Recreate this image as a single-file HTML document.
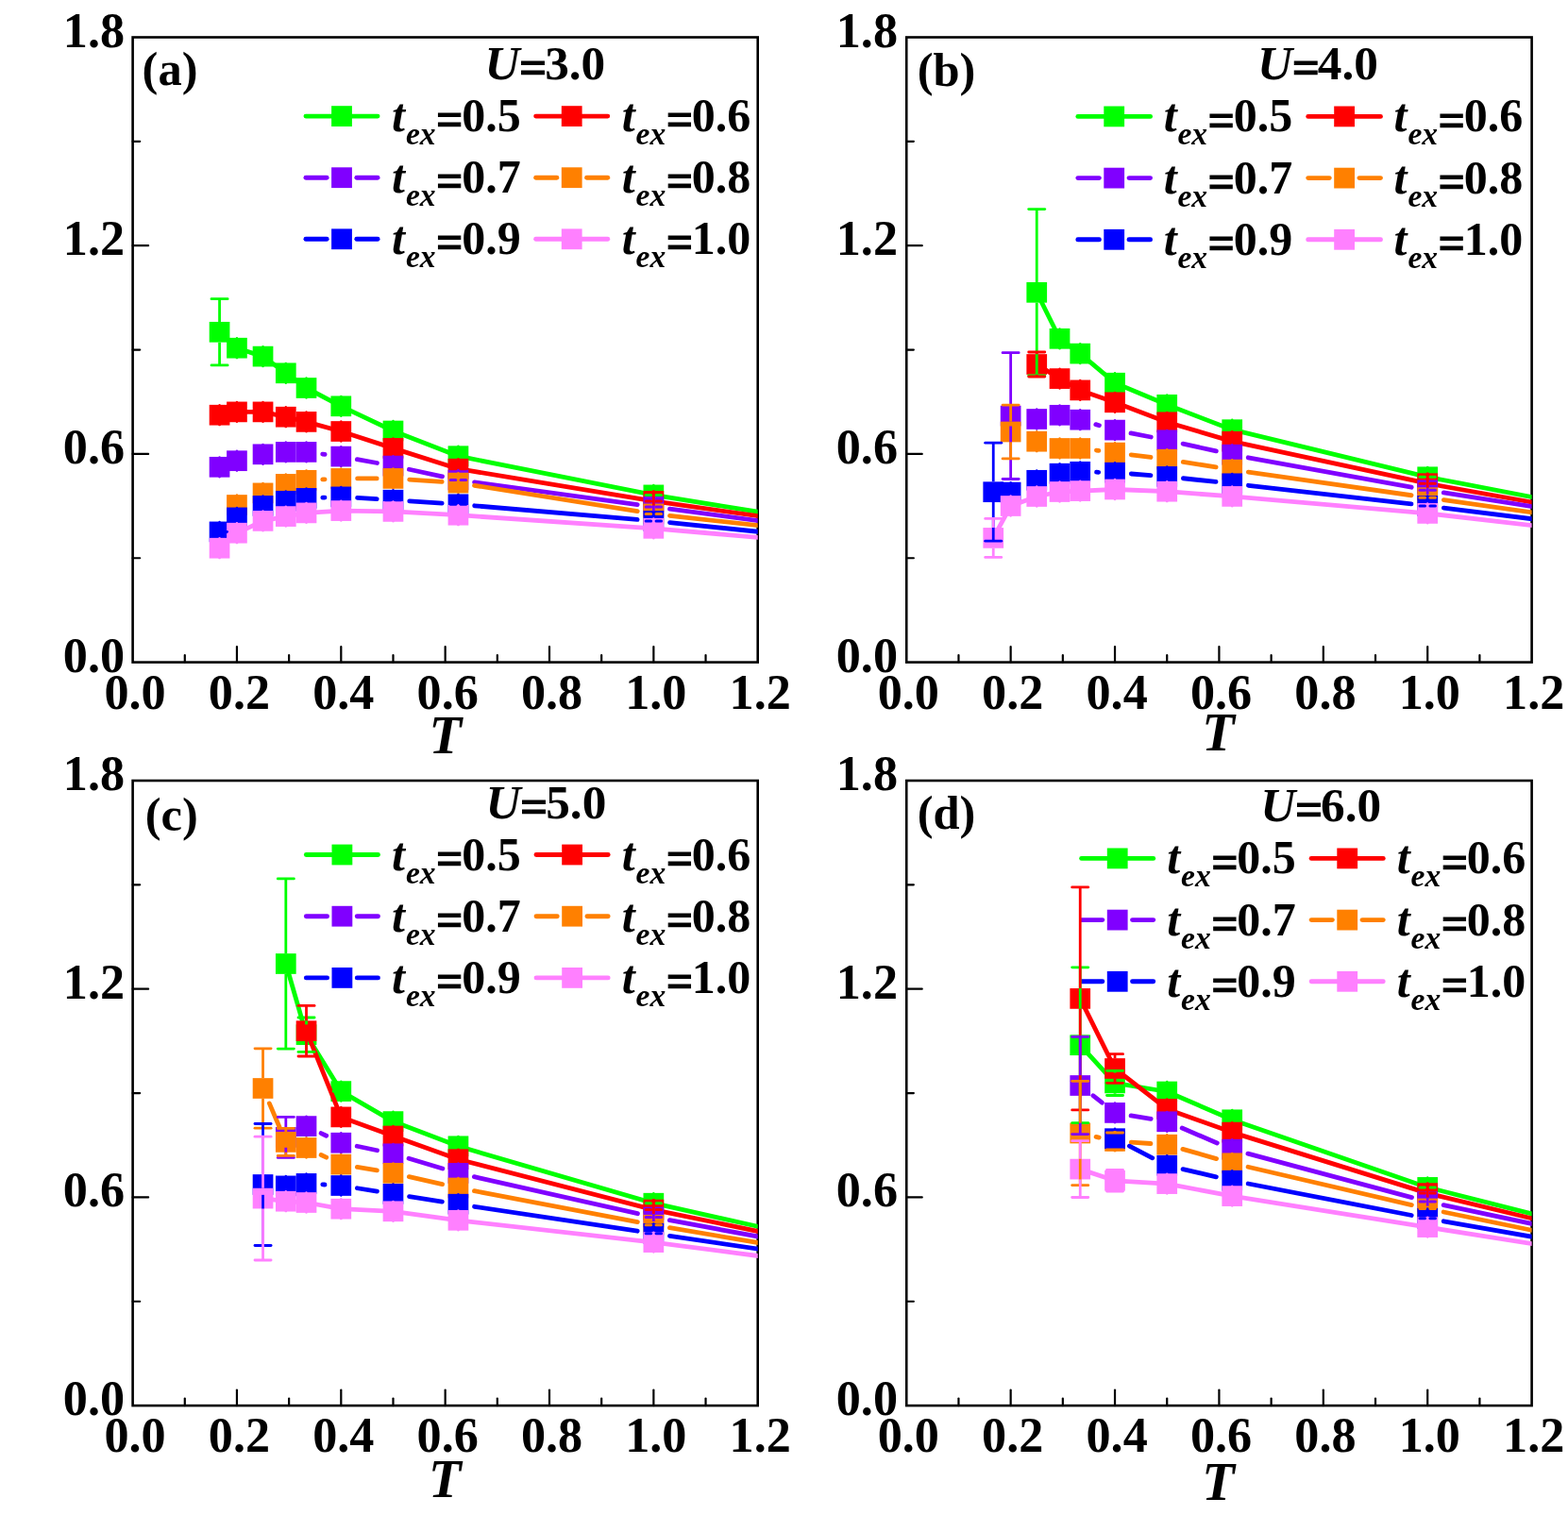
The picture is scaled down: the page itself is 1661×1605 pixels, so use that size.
<!DOCTYPE html>
<html lang="en">
<head>
<meta charset="utf-8">
<title>Figure: temperature dependence for U=3.0, 4.0, 5.0, 6.0</title>
<style>
html,body{margin:0;padding:0;background:#fff;}
body{width:1661px;height:1605px;overflow:hidden;}
svg{display:block;}
svg text{font-family:"Liberation Serif", serif;fill:#000;}
</style>
</head>
<body>
<svg width="1661" height="1605" viewBox="0 0 1661 1605">
<rect x="0" y="0" width="1661" height="1605" fill="#fff"/>
<g id="panel-a">
<rect x="140.6" y="39.5" width="662.1" height="662.1" fill="none" stroke="#000" stroke-width="2.6"/>
<line x1="195.78" y1="701.6" x2="195.78" y2="694" stroke="#000" stroke-width="2.2" stroke-linecap="round"/>
<line x1="250.95" y1="701.6" x2="250.95" y2="685.1" stroke="#000" stroke-width="2.2" stroke-linecap="round"/>
<line x1="306.12" y1="701.6" x2="306.12" y2="694" stroke="#000" stroke-width="2.2" stroke-linecap="round"/>
<line x1="361.3" y1="701.6" x2="361.3" y2="685.1" stroke="#000" stroke-width="2.2" stroke-linecap="round"/>
<line x1="416.48" y1="701.6" x2="416.48" y2="694" stroke="#000" stroke-width="2.2" stroke-linecap="round"/>
<line x1="471.65" y1="701.6" x2="471.65" y2="685.1" stroke="#000" stroke-width="2.2" stroke-linecap="round"/>
<line x1="526.82" y1="701.6" x2="526.82" y2="694" stroke="#000" stroke-width="2.2" stroke-linecap="round"/>
<line x1="582" y1="701.6" x2="582" y2="685.1" stroke="#000" stroke-width="2.2" stroke-linecap="round"/>
<line x1="637.17" y1="701.6" x2="637.17" y2="694" stroke="#000" stroke-width="2.2" stroke-linecap="round"/>
<line x1="692.35" y1="701.6" x2="692.35" y2="685.1" stroke="#000" stroke-width="2.2" stroke-linecap="round"/>
<line x1="747.53" y1="701.6" x2="747.53" y2="694" stroke="#000" stroke-width="2.2" stroke-linecap="round"/>
<line x1="140.6" y1="591.25" x2="148.2" y2="591.25" stroke="#000" stroke-width="2.2" stroke-linecap="round"/>
<line x1="140.6" y1="480.9" x2="157.1" y2="480.9" stroke="#000" stroke-width="2.2" stroke-linecap="round"/>
<line x1="140.6" y1="370.55" x2="148.2" y2="370.55" stroke="#000" stroke-width="2.2" stroke-linecap="round"/>
<line x1="140.6" y1="260.2" x2="157.1" y2="260.2" stroke="#000" stroke-width="2.2" stroke-linecap="round"/>
<line x1="140.6" y1="149.85" x2="148.2" y2="149.85" stroke="#000" stroke-width="2.2" stroke-linecap="round"/>
<g font-size="52.2" font-weight="bold" fill="#000">
<text x="143.1" y="750.7" text-anchor="middle">0.0</text>
<text x="253.45" y="750.7" text-anchor="middle">0.2</text>
<text x="363.8" y="750.7" text-anchor="middle">0.4</text>
<text x="474.15" y="750.7" text-anchor="middle">0.6</text>
<text x="584.5" y="750.7" text-anchor="middle">0.8</text>
<text x="694.85" y="750.7" text-anchor="middle">1.0</text>
<text x="805.2" y="750.7" text-anchor="middle">1.2</text>
<text x="132.1" y="711.6" text-anchor="end">0.0</text>
<text x="132.1" y="490.9" text-anchor="end">0.6</text>
<text x="132.1" y="270.2" text-anchor="end">1.2</text>
<text x="132.1" y="49.5" text-anchor="end">1.8</text>
</g>
<text x="471.65" y="798.1" font-size="56.5" font-weight="bold" font-style="italic" text-anchor="middle">T</text>
<text x="150.6" y="90.3" font-size="50.5" font-weight="bold">(a)</text>
<text x="513.4" y="84.1" font-size="51.3" font-weight="bold"><tspan font-style="italic">U</tspan><tspan dx="-0.45" dy="4.1" stroke="#000" stroke-width="1.1">=</tspan><tspan dx="-2.1" dy="-4.1">3.0</tspan></text>
<line x1="323.95" y1="123.1" x2="400.05" y2="123.1" stroke="#00ff00" stroke-width="4.9" stroke-linecap="round"/>
<rect x="351.1" y="112.2" width="21.8" height="21.8" fill="#00ff00"/>
<text x="415.1" y="139.1" font-size="50" font-weight="bold"><tspan font-style="italic">t</tspan><tspan font-style="italic" font-size="33.5" dx="0.9" dy="14">ex</tspan><tspan dx="0.45" dy="-9.9" stroke="#000" stroke-width="1.1">=</tspan><tspan dx="-1.35" dy="-4.1">0.5</tspan></text>
<line x1="567.65" y1="123.1" x2="643.75" y2="123.1" stroke="#ff0000" stroke-width="4.9" stroke-linecap="round"/>
<rect x="594.8" y="112.2" width="21.8" height="21.8" fill="#ff0000"/>
<text x="658.8" y="139.1" font-size="50" font-weight="bold"><tspan font-style="italic">t</tspan><tspan font-style="italic" font-size="33.5" dx="0.9" dy="14">ex</tspan><tspan dx="0.45" dy="-9.9" stroke="#000" stroke-width="1.1">=</tspan><tspan dx="-1.35" dy="-4.1">0.6</tspan></text>
<line x1="323.95" y1="188.2" x2="346.15" y2="188.2" stroke="#8000ff" stroke-width="4.9" stroke-linecap="round"/>
<line x1="377.85" y1="188.2" x2="400.05" y2="188.2" stroke="#8000ff" stroke-width="4.9" stroke-linecap="round"/>
<rect x="351.1" y="177.3" width="21.8" height="21.8" fill="#8000ff"/>
<text x="415.1" y="204.2" font-size="50" font-weight="bold"><tspan font-style="italic">t</tspan><tspan font-style="italic" font-size="33.5" dx="0.9" dy="14">ex</tspan><tspan dx="0.45" dy="-9.9" stroke="#000" stroke-width="1.1">=</tspan><tspan dx="-1.35" dy="-4.1">0.7</tspan></text>
<line x1="567.65" y1="188.2" x2="589.85" y2="188.2" stroke="#ff8000" stroke-width="4.9" stroke-linecap="round"/>
<line x1="621.55" y1="188.2" x2="643.75" y2="188.2" stroke="#ff8000" stroke-width="4.9" stroke-linecap="round"/>
<rect x="594.8" y="177.3" width="21.8" height="21.8" fill="#ff8000"/>
<text x="658.8" y="204.2" font-size="50" font-weight="bold"><tspan font-style="italic">t</tspan><tspan font-style="italic" font-size="33.5" dx="0.9" dy="14">ex</tspan><tspan dx="0.45" dy="-9.9" stroke="#000" stroke-width="1.1">=</tspan><tspan dx="-1.35" dy="-4.1">0.8</tspan></text>
<line x1="323.95" y1="253.3" x2="346.15" y2="253.3" stroke="#0000ff" stroke-width="4.9" stroke-linecap="round"/>
<line x1="377.85" y1="253.3" x2="400.05" y2="253.3" stroke="#0000ff" stroke-width="4.9" stroke-linecap="round"/>
<rect x="351.1" y="242.4" width="21.8" height="21.8" fill="#0000ff"/>
<text x="415.1" y="269.3" font-size="50" font-weight="bold"><tspan font-style="italic">t</tspan><tspan font-style="italic" font-size="33.5" dx="0.9" dy="14">ex</tspan><tspan dx="0.45" dy="-9.9" stroke="#000" stroke-width="1.1">=</tspan><tspan dx="-1.35" dy="-4.1">0.9</tspan></text>
<line x1="567.65" y1="253.3" x2="643.75" y2="253.3" stroke="#ff80ff" stroke-width="4.9" stroke-linecap="round"/>
<rect x="594.8" y="242.4" width="21.8" height="21.8" fill="#ff80ff"/>
<text x="658.8" y="269.3" font-size="50" font-weight="bold"><tspan font-style="italic">t</tspan><tspan font-style="italic" font-size="33.5" dx="0.9" dy="14">ex</tspan><tspan dx="0.45" dy="-9.9" stroke="#000" stroke-width="1.1">=</tspan><tspan dx="-1.35" dy="-4.1">1.0</tspan></text>
<clipPath id="clip-a"><rect x="140.6" y="39.5" width="662.1" height="662.1"/></clipPath>
<g clip-path="url(#clip-a)">
<polyline points="232.56,351.8 250.95,368.7 278.54,377.6 302.81,395.3 324.52,411 361.3,430.3 416.48,456.5 485.44,483.2 692.35,524.4 832.7,547.04" fill="none" stroke="#00ff00" stroke-width="4.8" stroke-linejoin="round" stroke-linecap="round"/>
<rect x="221.71" y="340.95" width="21.7" height="21.7" fill="#00ff00"/>
<rect x="240.1" y="357.85" width="21.7" height="21.7" fill="#00ff00"/>
<line x1="250.95" y1="358.25" x2="250.95" y2="379.15" stroke="#00ff00" stroke-width="2.4" stroke-linecap="round"/>
<rect x="267.69" y="366.75" width="21.7" height="21.7" fill="#00ff00"/>
<line x1="278.54" y1="367.15" x2="278.54" y2="388.05" stroke="#00ff00" stroke-width="2.4" stroke-linecap="round"/>
<rect x="291.96" y="384.45" width="21.7" height="21.7" fill="#00ff00"/>
<line x1="302.81" y1="384.85" x2="302.81" y2="405.75" stroke="#00ff00" stroke-width="2.4" stroke-linecap="round"/>
<rect x="313.67" y="400.15" width="21.7" height="21.7" fill="#00ff00"/>
<line x1="324.52" y1="400.55" x2="324.52" y2="421.45" stroke="#00ff00" stroke-width="2.4" stroke-linecap="round"/>
<rect x="350.45" y="419.45" width="21.7" height="21.7" fill="#00ff00"/>
<line x1="361.3" y1="419.85" x2="361.3" y2="440.75" stroke="#00ff00" stroke-width="2.4" stroke-linecap="round"/>
<rect x="405.62" y="445.65" width="21.7" height="21.7" fill="#00ff00"/>
<line x1="416.48" y1="446.05" x2="416.48" y2="466.95" stroke="#00ff00" stroke-width="2.4" stroke-linecap="round"/>
<rect x="474.59" y="472.35" width="21.7" height="21.7" fill="#00ff00"/>
<line x1="485.44" y1="472.75" x2="485.44" y2="493.65" stroke="#00ff00" stroke-width="2.4" stroke-linecap="round"/>
<rect x="681.5" y="513.55" width="21.7" height="21.7" fill="#00ff00"/>
<line x1="692.35" y1="513.95" x2="692.35" y2="534.85" stroke="#00ff00" stroke-width="2.4" stroke-linecap="round"/>
<polyline points="232.56,439.7 250.95,436.4 278.54,436.4 302.81,441.7 324.52,446.9 361.3,457 416.48,474.9 485.44,496.7 692.35,530.9 832.7,550.87" fill="none" stroke="#ff0000" stroke-width="4.8" stroke-linejoin="round" stroke-linecap="round"/>
<rect x="221.71" y="428.85" width="21.7" height="21.7" fill="#ff0000"/>
<line x1="232.56" y1="429.25" x2="232.56" y2="450.15" stroke="#ff0000" stroke-width="2.4" stroke-linecap="round"/>
<rect x="240.1" y="425.55" width="21.7" height="21.7" fill="#ff0000"/>
<line x1="250.95" y1="425.95" x2="250.95" y2="446.85" stroke="#ff0000" stroke-width="2.4" stroke-linecap="round"/>
<rect x="267.69" y="425.55" width="21.7" height="21.7" fill="#ff0000"/>
<line x1="278.54" y1="425.95" x2="278.54" y2="446.85" stroke="#ff0000" stroke-width="2.4" stroke-linecap="round"/>
<rect x="291.96" y="430.85" width="21.7" height="21.7" fill="#ff0000"/>
<line x1="302.81" y1="431.25" x2="302.81" y2="452.15" stroke="#ff0000" stroke-width="2.4" stroke-linecap="round"/>
<rect x="313.67" y="436.05" width="21.7" height="21.7" fill="#ff0000"/>
<line x1="324.52" y1="436.45" x2="324.52" y2="457.35" stroke="#ff0000" stroke-width="2.4" stroke-linecap="round"/>
<rect x="350.45" y="446.15" width="21.7" height="21.7" fill="#ff0000"/>
<line x1="361.3" y1="446.55" x2="361.3" y2="467.45" stroke="#ff0000" stroke-width="2.4" stroke-linecap="round"/>
<rect x="405.62" y="464.05" width="21.7" height="21.7" fill="#ff0000"/>
<line x1="416.48" y1="464.45" x2="416.48" y2="485.35" stroke="#ff0000" stroke-width="2.4" stroke-linecap="round"/>
<rect x="474.59" y="485.85" width="21.7" height="21.7" fill="#ff0000"/>
<line x1="485.44" y1="486.25" x2="485.44" y2="507.15" stroke="#ff0000" stroke-width="2.4" stroke-linecap="round"/>
<rect x="681.5" y="520.05" width="21.7" height="21.7" fill="#ff0000"/>
<line x1="692.35" y1="520.45" x2="692.35" y2="541.35" stroke="#ff0000" stroke-width="2.4" stroke-linecap="round"/>
<line x1="341.68" y1="481.09" x2="344.14" y2="481.41" stroke="#8000ff" stroke-width="4.8" stroke-linecap="round"/>
<line x1="378.32" y1="486.69" x2="399.45" y2="490.51" stroke="#8000ff" stroke-width="4.8" stroke-linecap="round"/>
<line x1="433.38" y1="497.25" x2="468.53" y2="504.85" stroke="#8000ff" stroke-width="4.8" stroke-linecap="round"/>
<line x1="502.58" y1="510.85" x2="675.21" y2="534.55" stroke="#8000ff" stroke-width="4.8" stroke-linecap="round"/>
<line x1="709.5" y1="539.18" x2="832.7" y2="555.6" stroke="#8000ff" stroke-width="4.8" stroke-linecap="round"/>
<rect x="221.71" y="483.95" width="21.7" height="21.7" fill="#8000ff"/>
<line x1="232.56" y1="484.35" x2="232.56" y2="505.25" stroke="#8000ff" stroke-width="2.4" stroke-linecap="round"/>
<rect x="240.1" y="477.35" width="21.7" height="21.7" fill="#8000ff"/>
<line x1="250.95" y1="477.75" x2="250.95" y2="498.65" stroke="#8000ff" stroke-width="2.4" stroke-linecap="round"/>
<rect x="267.69" y="470.45" width="21.7" height="21.7" fill="#8000ff"/>
<line x1="278.54" y1="470.85" x2="278.54" y2="491.75" stroke="#8000ff" stroke-width="2.4" stroke-linecap="round"/>
<rect x="291.96" y="468.05" width="21.7" height="21.7" fill="#8000ff"/>
<line x1="302.81" y1="468.45" x2="302.81" y2="489.35" stroke="#8000ff" stroke-width="2.4" stroke-linecap="round"/>
<rect x="313.67" y="468.05" width="21.7" height="21.7" fill="#8000ff"/>
<line x1="324.52" y1="468.45" x2="324.52" y2="489.35" stroke="#8000ff" stroke-width="2.4" stroke-linecap="round"/>
<rect x="350.45" y="472.75" width="21.7" height="21.7" fill="#8000ff"/>
<line x1="361.3" y1="473.15" x2="361.3" y2="494.05" stroke="#8000ff" stroke-width="2.4" stroke-linecap="round"/>
<rect x="405.62" y="482.75" width="21.7" height="21.7" fill="#8000ff"/>
<line x1="416.48" y1="483.15" x2="416.48" y2="504.05" stroke="#8000ff" stroke-width="2.4" stroke-linecap="round"/>
<rect x="474.59" y="497.65" width="21.7" height="21.7" fill="#8000ff"/>
<line x1="485.44" y1="498.05" x2="485.44" y2="518.95" stroke="#8000ff" stroke-width="2.4" stroke-linecap="round"/>
<rect x="681.5" y="526.05" width="21.7" height="21.7" fill="#8000ff"/>
<line x1="692.35" y1="526.45" x2="692.35" y2="547.35" stroke="#8000ff" stroke-width="2.4" stroke-linecap="round"/>
<line x1="341.79" y1="507.91" x2="344.02" y2="507.79" stroke="#ff8000" stroke-width="4.8" stroke-linecap="round"/>
<line x1="378.6" y1="506.9" x2="399.18" y2="506.9" stroke="#ff8000" stroke-width="4.8" stroke-linecap="round"/>
<line x1="433.73" y1="508.08" x2="468.18" y2="510.42" stroke="#ff8000" stroke-width="4.8" stroke-linecap="round"/>
<line x1="502.53" y1="514.31" x2="675.26" y2="541.69" stroke="#ff8000" stroke-width="4.8" stroke-linecap="round"/>
<line x1="709.55" y1="546.3" x2="832.7" y2="559.92" stroke="#ff8000" stroke-width="4.8" stroke-linecap="round"/>
<rect x="240.1" y="524.15" width="21.7" height="21.7" fill="#ff8000"/>
<line x1="250.95" y1="524.55" x2="250.95" y2="545.45" stroke="#ff8000" stroke-width="2.4" stroke-linecap="round"/>
<rect x="267.69" y="511.55" width="21.7" height="21.7" fill="#ff8000"/>
<line x1="278.54" y1="511.95" x2="278.54" y2="532.85" stroke="#ff8000" stroke-width="2.4" stroke-linecap="round"/>
<rect x="291.96" y="502.05" width="21.7" height="21.7" fill="#ff8000"/>
<line x1="302.81" y1="502.45" x2="302.81" y2="523.35" stroke="#ff8000" stroke-width="2.4" stroke-linecap="round"/>
<rect x="313.67" y="497.95" width="21.7" height="21.7" fill="#ff8000"/>
<line x1="324.52" y1="498.35" x2="324.52" y2="519.25" stroke="#ff8000" stroke-width="2.4" stroke-linecap="round"/>
<rect x="350.45" y="496.05" width="21.7" height="21.7" fill="#ff8000"/>
<line x1="361.3" y1="496.45" x2="361.3" y2="517.35" stroke="#ff8000" stroke-width="2.4" stroke-linecap="round"/>
<rect x="405.62" y="496.05" width="21.7" height="21.7" fill="#ff8000"/>
<line x1="416.48" y1="496.45" x2="416.48" y2="517.35" stroke="#ff8000" stroke-width="2.4" stroke-linecap="round"/>
<rect x="474.59" y="500.75" width="21.7" height="21.7" fill="#ff8000"/>
<line x1="485.44" y1="501.15" x2="485.44" y2="522.05" stroke="#ff8000" stroke-width="2.4" stroke-linecap="round"/>
<rect x="681.5" y="533.55" width="21.7" height="21.7" fill="#ff8000"/>
<line x1="692.35" y1="533.95" x2="692.35" y2="554.85" stroke="#ff8000" stroke-width="2.4" stroke-linecap="round"/>
<line x1="341.8" y1="527.2" x2="344.01" y2="527.1" stroke="#0000ff" stroke-width="4.8" stroke-linecap="round"/>
<line x1="378.57" y1="527.43" x2="399.21" y2="528.67" stroke="#0000ff" stroke-width="4.8" stroke-linecap="round"/>
<line x1="433.74" y1="530.85" x2="468.18" y2="533.15" stroke="#0000ff" stroke-width="4.8" stroke-linecap="round"/>
<line x1="502.68" y1="535.77" x2="675.11" y2="550.43" stroke="#0000ff" stroke-width="4.8" stroke-linecap="round"/>
<line x1="709.56" y1="553.66" x2="832.7" y2="566.27" stroke="#0000ff" stroke-width="4.8" stroke-linecap="round"/>
<rect x="221.71" y="552.55" width="21.7" height="21.7" fill="#0000ff"/>
<line x1="232.56" y1="552.95" x2="232.56" y2="573.85" stroke="#0000ff" stroke-width="2.4" stroke-linecap="round"/>
<rect x="240.1" y="537.55" width="21.7" height="21.7" fill="#0000ff"/>
<line x1="250.95" y1="537.95" x2="250.95" y2="558.85" stroke="#0000ff" stroke-width="2.4" stroke-linecap="round"/>
<rect x="267.69" y="525.05" width="21.7" height="21.7" fill="#0000ff"/>
<line x1="278.54" y1="525.45" x2="278.54" y2="546.35" stroke="#0000ff" stroke-width="2.4" stroke-linecap="round"/>
<rect x="291.96" y="519.95" width="21.7" height="21.7" fill="#0000ff"/>
<line x1="302.81" y1="520.35" x2="302.81" y2="541.25" stroke="#0000ff" stroke-width="2.4" stroke-linecap="round"/>
<rect x="313.67" y="517.05" width="21.7" height="21.7" fill="#0000ff"/>
<line x1="324.52" y1="517.45" x2="324.52" y2="538.35" stroke="#0000ff" stroke-width="2.4" stroke-linecap="round"/>
<rect x="350.45" y="515.55" width="21.7" height="21.7" fill="#0000ff"/>
<line x1="361.3" y1="515.95" x2="361.3" y2="536.85" stroke="#0000ff" stroke-width="2.4" stroke-linecap="round"/>
<rect x="405.62" y="518.85" width="21.7" height="21.7" fill="#0000ff"/>
<line x1="416.48" y1="519.25" x2="416.48" y2="540.15" stroke="#0000ff" stroke-width="2.4" stroke-linecap="round"/>
<rect x="474.59" y="523.45" width="21.7" height="21.7" fill="#0000ff"/>
<line x1="485.44" y1="523.85" x2="485.44" y2="544.75" stroke="#0000ff" stroke-width="2.4" stroke-linecap="round"/>
<rect x="681.5" y="541.05" width="21.7" height="21.7" fill="#0000ff"/>
<line x1="692.35" y1="541.45" x2="692.35" y2="562.35" stroke="#0000ff" stroke-width="2.4" stroke-linecap="round"/>
<polyline points="232.56,580.7 250.95,564.7 278.54,551.9 302.81,547.1 324.52,543.4 361.3,541.1 416.48,541.9 485.44,545.7 692.35,559.8 832.7,572.01" fill="none" stroke="#ff80ff" stroke-width="4.8" stroke-linejoin="round" stroke-linecap="round"/>
<rect x="221.71" y="569.85" width="21.7" height="21.7" fill="#ff80ff"/>
<line x1="232.56" y1="570.25" x2="232.56" y2="591.15" stroke="#ff80ff" stroke-width="2.4" stroke-linecap="round"/>
<rect x="240.1" y="553.85" width="21.7" height="21.7" fill="#ff80ff"/>
<line x1="250.95" y1="554.25" x2="250.95" y2="575.15" stroke="#ff80ff" stroke-width="2.4" stroke-linecap="round"/>
<rect x="267.69" y="541.05" width="21.7" height="21.7" fill="#ff80ff"/>
<line x1="278.54" y1="541.45" x2="278.54" y2="562.35" stroke="#ff80ff" stroke-width="2.4" stroke-linecap="round"/>
<rect x="291.96" y="536.25" width="21.7" height="21.7" fill="#ff80ff"/>
<line x1="302.81" y1="536.65" x2="302.81" y2="557.55" stroke="#ff80ff" stroke-width="2.4" stroke-linecap="round"/>
<rect x="313.67" y="532.55" width="21.7" height="21.7" fill="#ff80ff"/>
<line x1="324.52" y1="532.95" x2="324.52" y2="553.85" stroke="#ff80ff" stroke-width="2.4" stroke-linecap="round"/>
<rect x="350.45" y="530.25" width="21.7" height="21.7" fill="#ff80ff"/>
<line x1="361.3" y1="530.65" x2="361.3" y2="551.55" stroke="#ff80ff" stroke-width="2.4" stroke-linecap="round"/>
<rect x="405.62" y="531.05" width="21.7" height="21.7" fill="#ff80ff"/>
<line x1="416.48" y1="531.45" x2="416.48" y2="552.35" stroke="#ff80ff" stroke-width="2.4" stroke-linecap="round"/>
<rect x="474.59" y="534.85" width="21.7" height="21.7" fill="#ff80ff"/>
<line x1="485.44" y1="535.25" x2="485.44" y2="556.15" stroke="#ff80ff" stroke-width="2.4" stroke-linecap="round"/>
<rect x="681.5" y="548.95" width="21.7" height="21.7" fill="#ff80ff"/>
<line x1="692.35" y1="549.35" x2="692.35" y2="570.25" stroke="#ff80ff" stroke-width="2.4" stroke-linecap="round"/>
<line x1="232.56" y1="316.7" x2="232.56" y2="340.95" stroke="#00ff00" stroke-width="2.8" stroke-linecap="butt"/>
<line x1="232.56" y1="362.65" x2="232.56" y2="386.9" stroke="#00ff00" stroke-width="2.8" stroke-linecap="butt"/>
<line x1="224.01" y1="316.7" x2="241.11" y2="316.7" stroke="#00ff00" stroke-width="2.8" stroke-linecap="round"/>
<line x1="224.01" y1="386.9" x2="241.11" y2="386.9" stroke="#00ff00" stroke-width="2.8" stroke-linecap="round"/>
<line x1="242.75" y1="368.7" x2="248.25" y2="368.7" stroke="#00ff00" stroke-width="3" stroke-linecap="round"/>
<line x1="253.65" y1="368.7" x2="259.15" y2="368.7" stroke="#00ff00" stroke-width="3" stroke-linecap="round"/>
<line x1="270.34" y1="377.6" x2="275.84" y2="377.6" stroke="#00ff00" stroke-width="3" stroke-linecap="round"/>
<line x1="281.24" y1="377.6" x2="286.74" y2="377.6" stroke="#00ff00" stroke-width="3" stroke-linecap="round"/>
<line x1="294.61" y1="395.3" x2="300.11" y2="395.3" stroke="#00ff00" stroke-width="3" stroke-linecap="round"/>
<line x1="305.51" y1="395.3" x2="311.01" y2="395.3" stroke="#00ff00" stroke-width="3" stroke-linecap="round"/>
<line x1="316.32" y1="411" x2="321.82" y2="411" stroke="#00ff00" stroke-width="3" stroke-linecap="round"/>
<line x1="327.22" y1="411" x2="332.72" y2="411" stroke="#00ff00" stroke-width="3" stroke-linecap="round"/>
<line x1="353.1" y1="430.3" x2="358.6" y2="430.3" stroke="#00ff00" stroke-width="3" stroke-linecap="round"/>
<line x1="364" y1="430.3" x2="369.5" y2="430.3" stroke="#00ff00" stroke-width="3" stroke-linecap="round"/>
<line x1="408.28" y1="456.5" x2="413.78" y2="456.5" stroke="#00ff00" stroke-width="3" stroke-linecap="round"/>
<line x1="419.18" y1="456.5" x2="424.68" y2="456.5" stroke="#00ff00" stroke-width="3" stroke-linecap="round"/>
<line x1="477.24" y1="483.2" x2="482.74" y2="483.2" stroke="#00ff00" stroke-width="3" stroke-linecap="round"/>
<line x1="488.14" y1="483.2" x2="493.64" y2="483.2" stroke="#00ff00" stroke-width="3" stroke-linecap="round"/>
<line x1="684.15" y1="524.4" x2="689.65" y2="524.4" stroke="#00ff00" stroke-width="3" stroke-linecap="round"/>
<line x1="695.05" y1="524.4" x2="700.55" y2="524.4" stroke="#00ff00" stroke-width="3" stroke-linecap="round"/>
<line x1="224.36" y1="439.7" x2="229.86" y2="439.7" stroke="#ff0000" stroke-width="3" stroke-linecap="round"/>
<line x1="235.26" y1="439.7" x2="240.76" y2="439.7" stroke="#ff0000" stroke-width="3" stroke-linecap="round"/>
<line x1="242.75" y1="436.4" x2="248.25" y2="436.4" stroke="#ff0000" stroke-width="3" stroke-linecap="round"/>
<line x1="253.65" y1="436.4" x2="259.15" y2="436.4" stroke="#ff0000" stroke-width="3" stroke-linecap="round"/>
<line x1="270.34" y1="436.4" x2="275.84" y2="436.4" stroke="#ff0000" stroke-width="3" stroke-linecap="round"/>
<line x1="281.24" y1="436.4" x2="286.74" y2="436.4" stroke="#ff0000" stroke-width="3" stroke-linecap="round"/>
<line x1="294.61" y1="441.7" x2="300.11" y2="441.7" stroke="#ff0000" stroke-width="3" stroke-linecap="round"/>
<line x1="305.51" y1="441.7" x2="311.01" y2="441.7" stroke="#ff0000" stroke-width="3" stroke-linecap="round"/>
<line x1="316.32" y1="446.9" x2="321.82" y2="446.9" stroke="#ff0000" stroke-width="3" stroke-linecap="round"/>
<line x1="327.22" y1="446.9" x2="332.72" y2="446.9" stroke="#ff0000" stroke-width="3" stroke-linecap="round"/>
<line x1="353.1" y1="457" x2="358.6" y2="457" stroke="#ff0000" stroke-width="3" stroke-linecap="round"/>
<line x1="364" y1="457" x2="369.5" y2="457" stroke="#ff0000" stroke-width="3" stroke-linecap="round"/>
<line x1="408.28" y1="474.9" x2="413.78" y2="474.9" stroke="#ff0000" stroke-width="3" stroke-linecap="round"/>
<line x1="419.18" y1="474.9" x2="424.68" y2="474.9" stroke="#ff0000" stroke-width="3" stroke-linecap="round"/>
<line x1="477.24" y1="496.7" x2="482.74" y2="496.7" stroke="#ff0000" stroke-width="3" stroke-linecap="round"/>
<line x1="488.14" y1="496.7" x2="493.64" y2="496.7" stroke="#ff0000" stroke-width="3" stroke-linecap="round"/>
<line x1="684.15" y1="530.9" x2="689.65" y2="530.9" stroke="#ff0000" stroke-width="3" stroke-linecap="round"/>
<line x1="695.05" y1="530.9" x2="700.55" y2="530.9" stroke="#ff0000" stroke-width="3" stroke-linecap="round"/>
<line x1="224.36" y1="494.8" x2="229.86" y2="494.8" stroke="#8000ff" stroke-width="3" stroke-linecap="round"/>
<line x1="235.26" y1="494.8" x2="240.76" y2="494.8" stroke="#8000ff" stroke-width="3" stroke-linecap="round"/>
<line x1="242.75" y1="488.2" x2="248.25" y2="488.2" stroke="#8000ff" stroke-width="3" stroke-linecap="round"/>
<line x1="253.65" y1="488.2" x2="259.15" y2="488.2" stroke="#8000ff" stroke-width="3" stroke-linecap="round"/>
<line x1="270.34" y1="481.3" x2="275.84" y2="481.3" stroke="#8000ff" stroke-width="3" stroke-linecap="round"/>
<line x1="281.24" y1="481.3" x2="286.74" y2="481.3" stroke="#8000ff" stroke-width="3" stroke-linecap="round"/>
<line x1="294.61" y1="478.9" x2="300.11" y2="478.9" stroke="#8000ff" stroke-width="3" stroke-linecap="round"/>
<line x1="305.51" y1="478.9" x2="311.01" y2="478.9" stroke="#8000ff" stroke-width="3" stroke-linecap="round"/>
<line x1="316.32" y1="478.9" x2="321.82" y2="478.9" stroke="#8000ff" stroke-width="3" stroke-linecap="round"/>
<line x1="327.22" y1="478.9" x2="332.72" y2="478.9" stroke="#8000ff" stroke-width="3" stroke-linecap="round"/>
<line x1="353.1" y1="483.6" x2="358.6" y2="483.6" stroke="#8000ff" stroke-width="3" stroke-linecap="round"/>
<line x1="364" y1="483.6" x2="369.5" y2="483.6" stroke="#8000ff" stroke-width="3" stroke-linecap="round"/>
<line x1="408.28" y1="493.6" x2="413.78" y2="493.6" stroke="#8000ff" stroke-width="3" stroke-linecap="round"/>
<line x1="419.18" y1="493.6" x2="424.68" y2="493.6" stroke="#8000ff" stroke-width="3" stroke-linecap="round"/>
<line x1="477.24" y1="508.5" x2="482.74" y2="508.5" stroke="#8000ff" stroke-width="3" stroke-linecap="round"/>
<line x1="488.14" y1="508.5" x2="493.64" y2="508.5" stroke="#8000ff" stroke-width="3" stroke-linecap="round"/>
<line x1="684.15" y1="536.9" x2="689.65" y2="536.9" stroke="#8000ff" stroke-width="3" stroke-linecap="round"/>
<line x1="695.05" y1="536.9" x2="700.55" y2="536.9" stroke="#8000ff" stroke-width="3" stroke-linecap="round"/>
<line x1="242.75" y1="535" x2="248.25" y2="535" stroke="#ff8000" stroke-width="3" stroke-linecap="round"/>
<line x1="253.65" y1="535" x2="259.15" y2="535" stroke="#ff8000" stroke-width="3" stroke-linecap="round"/>
<line x1="270.34" y1="522.4" x2="275.84" y2="522.4" stroke="#ff8000" stroke-width="3" stroke-linecap="round"/>
<line x1="281.24" y1="522.4" x2="286.74" y2="522.4" stroke="#ff8000" stroke-width="3" stroke-linecap="round"/>
<line x1="294.61" y1="512.9" x2="300.11" y2="512.9" stroke="#ff8000" stroke-width="3" stroke-linecap="round"/>
<line x1="305.51" y1="512.9" x2="311.01" y2="512.9" stroke="#ff8000" stroke-width="3" stroke-linecap="round"/>
<line x1="316.32" y1="508.8" x2="321.82" y2="508.8" stroke="#ff8000" stroke-width="3" stroke-linecap="round"/>
<line x1="327.22" y1="508.8" x2="332.72" y2="508.8" stroke="#ff8000" stroke-width="3" stroke-linecap="round"/>
<line x1="353.1" y1="506.9" x2="358.6" y2="506.9" stroke="#ff8000" stroke-width="3" stroke-linecap="round"/>
<line x1="364" y1="506.9" x2="369.5" y2="506.9" stroke="#ff8000" stroke-width="3" stroke-linecap="round"/>
<line x1="408.28" y1="506.9" x2="413.78" y2="506.9" stroke="#ff8000" stroke-width="3" stroke-linecap="round"/>
<line x1="419.18" y1="506.9" x2="424.68" y2="506.9" stroke="#ff8000" stroke-width="3" stroke-linecap="round"/>
<line x1="477.24" y1="511.6" x2="482.74" y2="511.6" stroke="#ff8000" stroke-width="3" stroke-linecap="round"/>
<line x1="488.14" y1="511.6" x2="493.64" y2="511.6" stroke="#ff8000" stroke-width="3" stroke-linecap="round"/>
<line x1="684.15" y1="544.4" x2="689.65" y2="544.4" stroke="#ff8000" stroke-width="3" stroke-linecap="round"/>
<line x1="695.05" y1="544.4" x2="700.55" y2="544.4" stroke="#ff8000" stroke-width="3" stroke-linecap="round"/>
<line x1="224.36" y1="563.4" x2="229.86" y2="563.4" stroke="#0000ff" stroke-width="3" stroke-linecap="round"/>
<line x1="235.26" y1="563.4" x2="240.76" y2="563.4" stroke="#0000ff" stroke-width="3" stroke-linecap="round"/>
<line x1="242.75" y1="548.4" x2="248.25" y2="548.4" stroke="#0000ff" stroke-width="3" stroke-linecap="round"/>
<line x1="253.65" y1="548.4" x2="259.15" y2="548.4" stroke="#0000ff" stroke-width="3" stroke-linecap="round"/>
<line x1="270.34" y1="535.9" x2="275.84" y2="535.9" stroke="#0000ff" stroke-width="3" stroke-linecap="round"/>
<line x1="281.24" y1="535.9" x2="286.74" y2="535.9" stroke="#0000ff" stroke-width="3" stroke-linecap="round"/>
<line x1="294.61" y1="530.8" x2="300.11" y2="530.8" stroke="#0000ff" stroke-width="3" stroke-linecap="round"/>
<line x1="305.51" y1="530.8" x2="311.01" y2="530.8" stroke="#0000ff" stroke-width="3" stroke-linecap="round"/>
<line x1="316.32" y1="527.9" x2="321.82" y2="527.9" stroke="#0000ff" stroke-width="3" stroke-linecap="round"/>
<line x1="327.22" y1="527.9" x2="332.72" y2="527.9" stroke="#0000ff" stroke-width="3" stroke-linecap="round"/>
<line x1="353.1" y1="526.4" x2="358.6" y2="526.4" stroke="#0000ff" stroke-width="3" stroke-linecap="round"/>
<line x1="364" y1="526.4" x2="369.5" y2="526.4" stroke="#0000ff" stroke-width="3" stroke-linecap="round"/>
<line x1="408.28" y1="529.7" x2="413.78" y2="529.7" stroke="#0000ff" stroke-width="3" stroke-linecap="round"/>
<line x1="419.18" y1="529.7" x2="424.68" y2="529.7" stroke="#0000ff" stroke-width="3" stroke-linecap="round"/>
<line x1="477.24" y1="534.3" x2="482.74" y2="534.3" stroke="#0000ff" stroke-width="3" stroke-linecap="round"/>
<line x1="488.14" y1="534.3" x2="493.64" y2="534.3" stroke="#0000ff" stroke-width="3" stroke-linecap="round"/>
<line x1="684.15" y1="551.9" x2="689.65" y2="551.9" stroke="#0000ff" stroke-width="3" stroke-linecap="round"/>
<line x1="695.05" y1="551.9" x2="700.55" y2="551.9" stroke="#0000ff" stroke-width="3" stroke-linecap="round"/>
<line x1="224.36" y1="580.7" x2="229.86" y2="580.7" stroke="#ff80ff" stroke-width="3" stroke-linecap="round"/>
<line x1="235.26" y1="580.7" x2="240.76" y2="580.7" stroke="#ff80ff" stroke-width="3" stroke-linecap="round"/>
<line x1="242.75" y1="564.7" x2="248.25" y2="564.7" stroke="#ff80ff" stroke-width="3" stroke-linecap="round"/>
<line x1="253.65" y1="564.7" x2="259.15" y2="564.7" stroke="#ff80ff" stroke-width="3" stroke-linecap="round"/>
<line x1="270.34" y1="551.9" x2="275.84" y2="551.9" stroke="#ff80ff" stroke-width="3" stroke-linecap="round"/>
<line x1="281.24" y1="551.9" x2="286.74" y2="551.9" stroke="#ff80ff" stroke-width="3" stroke-linecap="round"/>
<line x1="294.61" y1="547.1" x2="300.11" y2="547.1" stroke="#ff80ff" stroke-width="3" stroke-linecap="round"/>
<line x1="305.51" y1="547.1" x2="311.01" y2="547.1" stroke="#ff80ff" stroke-width="3" stroke-linecap="round"/>
<line x1="316.32" y1="543.4" x2="321.82" y2="543.4" stroke="#ff80ff" stroke-width="3" stroke-linecap="round"/>
<line x1="327.22" y1="543.4" x2="332.72" y2="543.4" stroke="#ff80ff" stroke-width="3" stroke-linecap="round"/>
<line x1="353.1" y1="541.1" x2="358.6" y2="541.1" stroke="#ff80ff" stroke-width="3" stroke-linecap="round"/>
<line x1="364" y1="541.1" x2="369.5" y2="541.1" stroke="#ff80ff" stroke-width="3" stroke-linecap="round"/>
<line x1="408.28" y1="541.9" x2="413.78" y2="541.9" stroke="#ff80ff" stroke-width="3" stroke-linecap="round"/>
<line x1="419.18" y1="541.9" x2="424.68" y2="541.9" stroke="#ff80ff" stroke-width="3" stroke-linecap="round"/>
<line x1="477.24" y1="545.7" x2="482.74" y2="545.7" stroke="#ff80ff" stroke-width="3" stroke-linecap="round"/>
<line x1="488.14" y1="545.7" x2="493.64" y2="545.7" stroke="#ff80ff" stroke-width="3" stroke-linecap="round"/>
<line x1="684.15" y1="559.8" x2="689.65" y2="559.8" stroke="#ff80ff" stroke-width="3" stroke-linecap="round"/>
<line x1="695.05" y1="559.8" x2="700.55" y2="559.8" stroke="#ff80ff" stroke-width="3" stroke-linecap="round"/>
<line x1="692.35" y1="525.45" x2="692.35" y2="541.4" stroke="#8000ff" stroke-width="2.8" stroke-linecap="butt"/>
<line x1="692.35" y1="519.45" x2="692.35" y2="535.4" stroke="#ff0000" stroke-width="2.8" stroke-linecap="butt"/>
</g>
</g>
<g id="panel-b">
<rect x="960.25" y="39.5" width="662.35" height="662.1" fill="none" stroke="#000" stroke-width="2.6"/>
<line x1="1015.45" y1="701.6" x2="1015.45" y2="694" stroke="#000" stroke-width="2.2" stroke-linecap="round"/>
<line x1="1070.64" y1="701.6" x2="1070.64" y2="685.1" stroke="#000" stroke-width="2.2" stroke-linecap="round"/>
<line x1="1125.84" y1="701.6" x2="1125.84" y2="694" stroke="#000" stroke-width="2.2" stroke-linecap="round"/>
<line x1="1181.03" y1="701.6" x2="1181.03" y2="685.1" stroke="#000" stroke-width="2.2" stroke-linecap="round"/>
<line x1="1236.23" y1="701.6" x2="1236.23" y2="694" stroke="#000" stroke-width="2.2" stroke-linecap="round"/>
<line x1="1291.42" y1="701.6" x2="1291.42" y2="685.1" stroke="#000" stroke-width="2.2" stroke-linecap="round"/>
<line x1="1346.62" y1="701.6" x2="1346.62" y2="694" stroke="#000" stroke-width="2.2" stroke-linecap="round"/>
<line x1="1401.82" y1="701.6" x2="1401.82" y2="685.1" stroke="#000" stroke-width="2.2" stroke-linecap="round"/>
<line x1="1457.01" y1="701.6" x2="1457.01" y2="694" stroke="#000" stroke-width="2.2" stroke-linecap="round"/>
<line x1="1512.21" y1="701.6" x2="1512.21" y2="685.1" stroke="#000" stroke-width="2.2" stroke-linecap="round"/>
<line x1="1567.4" y1="701.6" x2="1567.4" y2="694" stroke="#000" stroke-width="2.2" stroke-linecap="round"/>
<line x1="960.25" y1="591.25" x2="967.85" y2="591.25" stroke="#000" stroke-width="2.2" stroke-linecap="round"/>
<line x1="960.25" y1="480.9" x2="976.75" y2="480.9" stroke="#000" stroke-width="2.2" stroke-linecap="round"/>
<line x1="960.25" y1="370.55" x2="967.85" y2="370.55" stroke="#000" stroke-width="2.2" stroke-linecap="round"/>
<line x1="960.25" y1="260.2" x2="976.75" y2="260.2" stroke="#000" stroke-width="2.2" stroke-linecap="round"/>
<line x1="960.25" y1="149.85" x2="967.85" y2="149.85" stroke="#000" stroke-width="2.2" stroke-linecap="round"/>
<g font-size="52.2" font-weight="bold" fill="#000">
<text x="962.35" y="750.7" text-anchor="middle">0.0</text>
<text x="1072.74" y="750.7" text-anchor="middle">0.2</text>
<text x="1183.13" y="750.7" text-anchor="middle">0.4</text>
<text x="1293.52" y="750.7" text-anchor="middle">0.6</text>
<text x="1403.92" y="750.7" text-anchor="middle">0.8</text>
<text x="1514.31" y="750.7" text-anchor="middle">1.0</text>
<text x="1624.7" y="750.7" text-anchor="middle">1.2</text>
<text x="951" y="711.6" text-anchor="end">0.0</text>
<text x="951" y="490.9" text-anchor="end">0.6</text>
<text x="951" y="270.2" text-anchor="end">1.2</text>
<text x="951" y="49.5" text-anchor="end">1.8</text>
</g>
<text x="1290.58" y="795.1" font-size="56.5" font-weight="bold" font-style="italic" text-anchor="middle">T</text>
<text x="971.7" y="91.2" font-size="50.5" font-weight="bold">(b)</text>
<text x="1332.1" y="84.1" font-size="51.3" font-weight="bold"><tspan font-style="italic">U</tspan><tspan dx="-0.45" dy="4.1" stroke="#000" stroke-width="1.1">=</tspan><tspan dx="-2.1" dy="-4.1">4.0</tspan></text>
<line x1="1141.85" y1="123.4" x2="1218.55" y2="123.4" stroke="#00ff00" stroke-width="4.9" stroke-linecap="round"/>
<rect x="1169.3" y="112.5" width="21.8" height="21.8" fill="#00ff00"/>
<text x="1232.7" y="139.4" font-size="50" font-weight="bold"><tspan font-style="italic">t</tspan><tspan font-style="italic" font-size="33.5" dx="0.9" dy="14">ex</tspan><tspan dx="0.45" dy="-9.9" stroke="#000" stroke-width="1.1">=</tspan><tspan dx="-1.35" dy="-4.1">0.5</tspan></text>
<line x1="1385.75" y1="123.4" x2="1462.45" y2="123.4" stroke="#ff0000" stroke-width="4.9" stroke-linecap="round"/>
<rect x="1413.2" y="112.5" width="21.8" height="21.8" fill="#ff0000"/>
<text x="1476.6" y="139.4" font-size="50" font-weight="bold"><tspan font-style="italic">t</tspan><tspan font-style="italic" font-size="33.5" dx="0.9" dy="14">ex</tspan><tspan dx="0.45" dy="-9.9" stroke="#000" stroke-width="1.1">=</tspan><tspan dx="-1.35" dy="-4.1">0.6</tspan></text>
<line x1="1141.85" y1="188.6" x2="1164.35" y2="188.6" stroke="#8000ff" stroke-width="4.9" stroke-linecap="round"/>
<line x1="1196.05" y1="188.6" x2="1218.55" y2="188.6" stroke="#8000ff" stroke-width="4.9" stroke-linecap="round"/>
<rect x="1169.3" y="177.7" width="21.8" height="21.8" fill="#8000ff"/>
<text x="1232.7" y="204.6" font-size="50" font-weight="bold"><tspan font-style="italic">t</tspan><tspan font-style="italic" font-size="33.5" dx="0.9" dy="14">ex</tspan><tspan dx="0.45" dy="-9.9" stroke="#000" stroke-width="1.1">=</tspan><tspan dx="-1.35" dy="-4.1">0.7</tspan></text>
<line x1="1385.75" y1="188.6" x2="1408.25" y2="188.6" stroke="#ff8000" stroke-width="4.9" stroke-linecap="round"/>
<line x1="1439.95" y1="188.6" x2="1462.45" y2="188.6" stroke="#ff8000" stroke-width="4.9" stroke-linecap="round"/>
<rect x="1413.2" y="177.7" width="21.8" height="21.8" fill="#ff8000"/>
<text x="1476.6" y="204.6" font-size="50" font-weight="bold"><tspan font-style="italic">t</tspan><tspan font-style="italic" font-size="33.5" dx="0.9" dy="14">ex</tspan><tspan dx="0.45" dy="-9.9" stroke="#000" stroke-width="1.1">=</tspan><tspan dx="-1.35" dy="-4.1">0.8</tspan></text>
<line x1="1141.85" y1="253.8" x2="1164.35" y2="253.8" stroke="#0000ff" stroke-width="4.9" stroke-linecap="round"/>
<line x1="1196.05" y1="253.8" x2="1218.55" y2="253.8" stroke="#0000ff" stroke-width="4.9" stroke-linecap="round"/>
<rect x="1169.3" y="242.9" width="21.8" height="21.8" fill="#0000ff"/>
<text x="1232.7" y="269.8" font-size="50" font-weight="bold"><tspan font-style="italic">t</tspan><tspan font-style="italic" font-size="33.5" dx="0.9" dy="14">ex</tspan><tspan dx="0.45" dy="-9.9" stroke="#000" stroke-width="1.1">=</tspan><tspan dx="-1.35" dy="-4.1">0.9</tspan></text>
<line x1="1385.75" y1="253.8" x2="1462.45" y2="253.8" stroke="#ff80ff" stroke-width="4.9" stroke-linecap="round"/>
<rect x="1413.2" y="242.9" width="21.8" height="21.8" fill="#ff80ff"/>
<text x="1476.6" y="269.8" font-size="50" font-weight="bold"><tspan font-style="italic">t</tspan><tspan font-style="italic" font-size="33.5" dx="0.9" dy="14">ex</tspan><tspan dx="0.45" dy="-9.9" stroke="#000" stroke-width="1.1">=</tspan><tspan dx="-1.35" dy="-4.1">1.0</tspan></text>
<clipPath id="clip-b"><rect x="960.25" y="39.5" width="662.35" height="662.1"/></clipPath>
<g clip-path="url(#clip-b)">
<polyline points="1098.24,309.8 1122.53,358.8 1144.24,374.6 1181.03,405.7 1236.23,428.8 1305.22,455.2 1512.21,505.3 1652.6,532.39" fill="none" stroke="#00ff00" stroke-width="4.8" stroke-linejoin="round" stroke-linecap="round"/>
<rect x="1087.39" y="298.95" width="21.7" height="21.7" fill="#00ff00"/>
<rect x="1111.68" y="347.95" width="21.7" height="21.7" fill="#00ff00"/>
<line x1="1122.53" y1="348.35" x2="1122.53" y2="369.25" stroke="#00ff00" stroke-width="2.4" stroke-linecap="round"/>
<rect x="1133.39" y="363.75" width="21.7" height="21.7" fill="#00ff00"/>
<line x1="1144.24" y1="364.15" x2="1144.24" y2="385.05" stroke="#00ff00" stroke-width="2.4" stroke-linecap="round"/>
<rect x="1170.18" y="394.85" width="21.7" height="21.7" fill="#00ff00"/>
<line x1="1181.03" y1="395.25" x2="1181.03" y2="416.15" stroke="#00ff00" stroke-width="2.4" stroke-linecap="round"/>
<rect x="1225.38" y="417.95" width="21.7" height="21.7" fill="#00ff00"/>
<line x1="1236.23" y1="418.35" x2="1236.23" y2="439.25" stroke="#00ff00" stroke-width="2.4" stroke-linecap="round"/>
<rect x="1294.37" y="444.35" width="21.7" height="21.7" fill="#00ff00"/>
<line x1="1305.22" y1="444.75" x2="1305.22" y2="465.65" stroke="#00ff00" stroke-width="2.4" stroke-linecap="round"/>
<rect x="1501.36" y="494.45" width="21.7" height="21.7" fill="#00ff00"/>
<line x1="1512.21" y1="494.85" x2="1512.21" y2="515.75" stroke="#00ff00" stroke-width="2.4" stroke-linecap="round"/>
<polyline points="1098.24,386 1122.53,401.1 1144.24,413.4 1181.03,426.3 1236.23,447.3 1305.22,467.6 1512.21,512.2 1652.6,537.38" fill="none" stroke="#ff0000" stroke-width="4.8" stroke-linejoin="round" stroke-linecap="round"/>
<rect x="1087.39" y="375.15" width="21.7" height="21.7" fill="#ff0000"/>
<rect x="1111.68" y="390.25" width="21.7" height="21.7" fill="#ff0000"/>
<line x1="1122.53" y1="390.65" x2="1122.53" y2="411.55" stroke="#ff0000" stroke-width="2.4" stroke-linecap="round"/>
<rect x="1133.39" y="402.55" width="21.7" height="21.7" fill="#ff0000"/>
<line x1="1144.24" y1="402.95" x2="1144.24" y2="423.85" stroke="#ff0000" stroke-width="2.4" stroke-linecap="round"/>
<rect x="1170.18" y="415.45" width="21.7" height="21.7" fill="#ff0000"/>
<line x1="1181.03" y1="415.85" x2="1181.03" y2="436.75" stroke="#ff0000" stroke-width="2.4" stroke-linecap="round"/>
<rect x="1225.38" y="436.45" width="21.7" height="21.7" fill="#ff0000"/>
<line x1="1236.23" y1="436.85" x2="1236.23" y2="457.75" stroke="#ff0000" stroke-width="2.4" stroke-linecap="round"/>
<rect x="1294.37" y="456.75" width="21.7" height="21.7" fill="#ff0000"/>
<line x1="1305.22" y1="457.15" x2="1305.22" y2="478.05" stroke="#ff0000" stroke-width="2.4" stroke-linecap="round"/>
<rect x="1501.36" y="501.35" width="21.7" height="21.7" fill="#ff0000"/>
<line x1="1512.21" y1="501.75" x2="1512.21" y2="522.65" stroke="#ff0000" stroke-width="2.4" stroke-linecap="round"/>
<line x1="1160.82" y1="449.61" x2="1164.45" y2="450.69" stroke="#8000ff" stroke-width="4.8" stroke-linecap="round"/>
<line x1="1198.02" y1="458.89" x2="1219.25" y2="463.01" stroke="#8000ff" stroke-width="4.8" stroke-linecap="round"/>
<line x1="1253.11" y1="470.07" x2="1288.34" y2="477.93" stroke="#8000ff" stroke-width="4.8" stroke-linecap="round"/>
<line x1="1322.25" y1="484.79" x2="1495.19" y2="516.21" stroke="#8000ff" stroke-width="4.8" stroke-linecap="round"/>
<line x1="1529.3" y1="521.98" x2="1652.6" y2="541.3" stroke="#8000ff" stroke-width="4.8" stroke-linecap="round"/>
<rect x="1059.79" y="429.75" width="21.7" height="21.7" fill="#8000ff"/>
<rect x="1087.39" y="433.15" width="21.7" height="21.7" fill="#8000ff"/>
<line x1="1098.24" y1="433.55" x2="1098.24" y2="454.45" stroke="#8000ff" stroke-width="2.4" stroke-linecap="round"/>
<rect x="1111.68" y="428.95" width="21.7" height="21.7" fill="#8000ff"/>
<line x1="1122.53" y1="429.35" x2="1122.53" y2="450.25" stroke="#8000ff" stroke-width="2.4" stroke-linecap="round"/>
<rect x="1133.39" y="433.85" width="21.7" height="21.7" fill="#8000ff"/>
<line x1="1144.24" y1="434.25" x2="1144.24" y2="455.15" stroke="#8000ff" stroke-width="2.4" stroke-linecap="round"/>
<rect x="1170.18" y="444.75" width="21.7" height="21.7" fill="#8000ff"/>
<line x1="1181.03" y1="445.15" x2="1181.03" y2="466.05" stroke="#8000ff" stroke-width="2.4" stroke-linecap="round"/>
<rect x="1225.38" y="455.45" width="21.7" height="21.7" fill="#8000ff"/>
<line x1="1236.23" y1="455.85" x2="1236.23" y2="476.75" stroke="#8000ff" stroke-width="2.4" stroke-linecap="round"/>
<rect x="1294.37" y="470.85" width="21.7" height="21.7" fill="#8000ff"/>
<line x1="1305.22" y1="471.25" x2="1305.22" y2="492.15" stroke="#8000ff" stroke-width="2.4" stroke-linecap="round"/>
<rect x="1501.36" y="508.45" width="21.7" height="21.7" fill="#8000ff"/>
<line x1="1512.21" y1="508.85" x2="1512.21" y2="529.75" stroke="#8000ff" stroke-width="2.4" stroke-linecap="round"/>
<line x1="1161.4" y1="477.15" x2="1163.87" y2="477.45" stroke="#ff8000" stroke-width="4.8" stroke-linecap="round"/>
<line x1="1198.19" y1="481.81" x2="1219.07" y2="484.49" stroke="#ff8000" stroke-width="4.8" stroke-linecap="round"/>
<line x1="1253.32" y1="489.4" x2="1288.14" y2="494.9" stroke="#ff8000" stroke-width="4.8" stroke-linecap="round"/>
<line x1="1322.35" y1="500.05" x2="1495.08" y2="524.75" stroke="#ff8000" stroke-width="4.8" stroke-linecap="round"/>
<line x1="1529.34" y1="529.62" x2="1652.6" y2="547.04" stroke="#ff8000" stroke-width="4.8" stroke-linecap="round"/>
<rect x="1059.79" y="446.65" width="21.7" height="21.7" fill="#ff8000"/>
<rect x="1087.39" y="456.85" width="21.7" height="21.7" fill="#ff8000"/>
<line x1="1098.24" y1="457.25" x2="1098.24" y2="478.15" stroke="#ff8000" stroke-width="2.4" stroke-linecap="round"/>
<rect x="1111.68" y="464.15" width="21.7" height="21.7" fill="#ff8000"/>
<line x1="1122.53" y1="464.55" x2="1122.53" y2="485.45" stroke="#ff8000" stroke-width="2.4" stroke-linecap="round"/>
<rect x="1133.39" y="464.15" width="21.7" height="21.7" fill="#ff8000"/>
<line x1="1144.24" y1="464.55" x2="1144.24" y2="485.45" stroke="#ff8000" stroke-width="2.4" stroke-linecap="round"/>
<rect x="1170.18" y="468.75" width="21.7" height="21.7" fill="#ff8000"/>
<line x1="1181.03" y1="469.15" x2="1181.03" y2="490.05" stroke="#ff8000" stroke-width="2.4" stroke-linecap="round"/>
<rect x="1225.38" y="475.85" width="21.7" height="21.7" fill="#ff8000"/>
<line x1="1236.23" y1="476.25" x2="1236.23" y2="497.15" stroke="#ff8000" stroke-width="2.4" stroke-linecap="round"/>
<rect x="1294.37" y="486.75" width="21.7" height="21.7" fill="#ff8000"/>
<line x1="1305.22" y1="487.15" x2="1305.22" y2="508.05" stroke="#ff8000" stroke-width="2.4" stroke-linecap="round"/>
<rect x="1501.36" y="516.35" width="21.7" height="21.7" fill="#ff8000"/>
<line x1="1512.21" y1="516.75" x2="1512.21" y2="537.65" stroke="#ff8000" stroke-width="2.4" stroke-linecap="round"/>
<line x1="1161.53" y1="500.22" x2="1163.74" y2="500.28" stroke="#0000ff" stroke-width="4.8" stroke-linecap="round"/>
<line x1="1198.28" y1="502.01" x2="1218.98" y2="503.59" stroke="#0000ff" stroke-width="4.8" stroke-linecap="round"/>
<line x1="1253.43" y1="506.74" x2="1288.02" y2="510.46" stroke="#0000ff" stroke-width="4.8" stroke-linecap="round"/>
<line x1="1322.41" y1="514.26" x2="1495.02" y2="533.94" stroke="#0000ff" stroke-width="4.8" stroke-linecap="round"/>
<line x1="1529.37" y1="538.05" x2="1652.6" y2="553.45" stroke="#0000ff" stroke-width="4.8" stroke-linecap="round"/>
<rect x="1041.39" y="510.35" width="21.7" height="21.7" fill="#0000ff"/>
<rect x="1059.79" y="510.75" width="21.7" height="21.7" fill="#0000ff"/>
<line x1="1070.64" y1="511.15" x2="1070.64" y2="532.05" stroke="#0000ff" stroke-width="2.4" stroke-linecap="round"/>
<rect x="1087.39" y="497.95" width="21.7" height="21.7" fill="#0000ff"/>
<line x1="1098.24" y1="498.35" x2="1098.24" y2="519.25" stroke="#0000ff" stroke-width="2.4" stroke-linecap="round"/>
<rect x="1111.68" y="490.85" width="21.7" height="21.7" fill="#0000ff"/>
<line x1="1122.53" y1="491.25" x2="1122.53" y2="512.15" stroke="#0000ff" stroke-width="2.4" stroke-linecap="round"/>
<rect x="1133.39" y="488.95" width="21.7" height="21.7" fill="#0000ff"/>
<line x1="1144.24" y1="489.35" x2="1144.24" y2="510.25" stroke="#0000ff" stroke-width="2.4" stroke-linecap="round"/>
<rect x="1170.18" y="489.85" width="21.7" height="21.7" fill="#0000ff"/>
<line x1="1181.03" y1="490.25" x2="1181.03" y2="511.15" stroke="#0000ff" stroke-width="2.4" stroke-linecap="round"/>
<rect x="1225.38" y="494.05" width="21.7" height="21.7" fill="#0000ff"/>
<line x1="1236.23" y1="494.45" x2="1236.23" y2="515.35" stroke="#0000ff" stroke-width="2.4" stroke-linecap="round"/>
<rect x="1294.37" y="501.45" width="21.7" height="21.7" fill="#0000ff"/>
<line x1="1305.22" y1="501.85" x2="1305.22" y2="522.75" stroke="#0000ff" stroke-width="2.4" stroke-linecap="round"/>
<rect x="1501.36" y="525.05" width="21.7" height="21.7" fill="#0000ff"/>
<line x1="1512.21" y1="525.45" x2="1512.21" y2="546.35" stroke="#0000ff" stroke-width="2.4" stroke-linecap="round"/>
<polyline points="1052.24,569.9 1070.64,536 1098.24,526 1122.53,521 1144.24,520.1 1181.03,518.5 1236.23,520.7 1305.22,525.9 1512.21,543.9 1652.6,559.92" fill="none" stroke="#ff80ff" stroke-width="4.8" stroke-linejoin="round" stroke-linecap="round"/>
<rect x="1041.39" y="559.05" width="21.7" height="21.7" fill="#ff80ff"/>
<rect x="1059.79" y="525.15" width="21.7" height="21.7" fill="#ff80ff"/>
<line x1="1070.64" y1="525.55" x2="1070.64" y2="546.45" stroke="#ff80ff" stroke-width="2.4" stroke-linecap="round"/>
<rect x="1087.39" y="515.15" width="21.7" height="21.7" fill="#ff80ff"/>
<line x1="1098.24" y1="515.55" x2="1098.24" y2="536.45" stroke="#ff80ff" stroke-width="2.4" stroke-linecap="round"/>
<rect x="1111.68" y="510.15" width="21.7" height="21.7" fill="#ff80ff"/>
<line x1="1122.53" y1="510.55" x2="1122.53" y2="531.45" stroke="#ff80ff" stroke-width="2.4" stroke-linecap="round"/>
<rect x="1133.39" y="509.25" width="21.7" height="21.7" fill="#ff80ff"/>
<line x1="1144.24" y1="509.65" x2="1144.24" y2="530.55" stroke="#ff80ff" stroke-width="2.4" stroke-linecap="round"/>
<rect x="1170.18" y="507.65" width="21.7" height="21.7" fill="#ff80ff"/>
<line x1="1181.03" y1="508.05" x2="1181.03" y2="528.95" stroke="#ff80ff" stroke-width="2.4" stroke-linecap="round"/>
<rect x="1225.38" y="509.85" width="21.7" height="21.7" fill="#ff80ff"/>
<line x1="1236.23" y1="510.25" x2="1236.23" y2="531.15" stroke="#ff80ff" stroke-width="2.4" stroke-linecap="round"/>
<rect x="1294.37" y="515.05" width="21.7" height="21.7" fill="#ff80ff"/>
<line x1="1305.22" y1="515.45" x2="1305.22" y2="536.35" stroke="#ff80ff" stroke-width="2.4" stroke-linecap="round"/>
<rect x="1501.36" y="533.05" width="21.7" height="21.7" fill="#ff80ff"/>
<line x1="1512.21" y1="533.45" x2="1512.21" y2="554.35" stroke="#ff80ff" stroke-width="2.4" stroke-linecap="round"/>
<line x1="1098.24" y1="221.6" x2="1098.24" y2="298.95" stroke="#00ff00" stroke-width="2.8" stroke-linecap="butt"/>
<line x1="1098.24" y1="320.65" x2="1098.24" y2="398" stroke="#00ff00" stroke-width="2.8" stroke-linecap="butt"/>
<line x1="1089.69" y1="221.6" x2="1106.79" y2="221.6" stroke="#00ff00" stroke-width="2.8" stroke-linecap="round"/>
<line x1="1089.69" y1="398" x2="1106.79" y2="398" stroke="#00ff00" stroke-width="2.8" stroke-linecap="round"/>
<line x1="1114.33" y1="358.8" x2="1119.83" y2="358.8" stroke="#00ff00" stroke-width="3" stroke-linecap="round"/>
<line x1="1125.23" y1="358.8" x2="1130.73" y2="358.8" stroke="#00ff00" stroke-width="3" stroke-linecap="round"/>
<line x1="1136.04" y1="374.6" x2="1141.54" y2="374.6" stroke="#00ff00" stroke-width="3" stroke-linecap="round"/>
<line x1="1146.94" y1="374.6" x2="1152.44" y2="374.6" stroke="#00ff00" stroke-width="3" stroke-linecap="round"/>
<line x1="1172.83" y1="405.7" x2="1178.33" y2="405.7" stroke="#00ff00" stroke-width="3" stroke-linecap="round"/>
<line x1="1183.73" y1="405.7" x2="1189.23" y2="405.7" stroke="#00ff00" stroke-width="3" stroke-linecap="round"/>
<line x1="1228.03" y1="428.8" x2="1233.53" y2="428.8" stroke="#00ff00" stroke-width="3" stroke-linecap="round"/>
<line x1="1238.93" y1="428.8" x2="1244.43" y2="428.8" stroke="#00ff00" stroke-width="3" stroke-linecap="round"/>
<line x1="1297.02" y1="455.2" x2="1302.52" y2="455.2" stroke="#00ff00" stroke-width="3" stroke-linecap="round"/>
<line x1="1307.92" y1="455.2" x2="1313.42" y2="455.2" stroke="#00ff00" stroke-width="3" stroke-linecap="round"/>
<line x1="1504.01" y1="505.3" x2="1509.51" y2="505.3" stroke="#00ff00" stroke-width="3" stroke-linecap="round"/>
<line x1="1514.91" y1="505.3" x2="1520.41" y2="505.3" stroke="#00ff00" stroke-width="3" stroke-linecap="round"/>
<line x1="1098.24" y1="373" x2="1098.24" y2="375.15" stroke="#ff0000" stroke-width="2.8" stroke-linecap="butt"/>
<line x1="1098.24" y1="396.85" x2="1098.24" y2="399" stroke="#ff0000" stroke-width="2.8" stroke-linecap="butt"/>
<line x1="1089.69" y1="373" x2="1106.79" y2="373" stroke="#ff0000" stroke-width="2.8" stroke-linecap="round"/>
<line x1="1089.69" y1="399" x2="1106.79" y2="399" stroke="#ff0000" stroke-width="2.8" stroke-linecap="round"/>
<line x1="1114.33" y1="401.1" x2="1119.83" y2="401.1" stroke="#ff0000" stroke-width="3" stroke-linecap="round"/>
<line x1="1125.23" y1="401.1" x2="1130.73" y2="401.1" stroke="#ff0000" stroke-width="3" stroke-linecap="round"/>
<line x1="1136.04" y1="413.4" x2="1141.54" y2="413.4" stroke="#ff0000" stroke-width="3" stroke-linecap="round"/>
<line x1="1146.94" y1="413.4" x2="1152.44" y2="413.4" stroke="#ff0000" stroke-width="3" stroke-linecap="round"/>
<line x1="1172.83" y1="426.3" x2="1178.33" y2="426.3" stroke="#ff0000" stroke-width="3" stroke-linecap="round"/>
<line x1="1183.73" y1="426.3" x2="1189.23" y2="426.3" stroke="#ff0000" stroke-width="3" stroke-linecap="round"/>
<line x1="1228.03" y1="447.3" x2="1233.53" y2="447.3" stroke="#ff0000" stroke-width="3" stroke-linecap="round"/>
<line x1="1238.93" y1="447.3" x2="1244.43" y2="447.3" stroke="#ff0000" stroke-width="3" stroke-linecap="round"/>
<line x1="1297.02" y1="467.6" x2="1302.52" y2="467.6" stroke="#ff0000" stroke-width="3" stroke-linecap="round"/>
<line x1="1307.92" y1="467.6" x2="1313.42" y2="467.6" stroke="#ff0000" stroke-width="3" stroke-linecap="round"/>
<line x1="1504.01" y1="512.2" x2="1509.51" y2="512.2" stroke="#ff0000" stroke-width="3" stroke-linecap="round"/>
<line x1="1514.91" y1="512.2" x2="1520.41" y2="512.2" stroke="#ff0000" stroke-width="3" stroke-linecap="round"/>
<line x1="1070.64" y1="373.7" x2="1070.64" y2="429.75" stroke="#8000ff" stroke-width="2.8" stroke-linecap="butt"/>
<line x1="1070.64" y1="451.45" x2="1070.64" y2="507.5" stroke="#8000ff" stroke-width="2.8" stroke-linecap="butt"/>
<line x1="1062.09" y1="373.7" x2="1079.19" y2="373.7" stroke="#8000ff" stroke-width="2.8" stroke-linecap="round"/>
<line x1="1062.09" y1="507.5" x2="1079.19" y2="507.5" stroke="#8000ff" stroke-width="2.8" stroke-linecap="round"/>
<line x1="1090.04" y1="444" x2="1095.54" y2="444" stroke="#8000ff" stroke-width="3" stroke-linecap="round"/>
<line x1="1100.94" y1="444" x2="1106.44" y2="444" stroke="#8000ff" stroke-width="3" stroke-linecap="round"/>
<line x1="1114.33" y1="439.8" x2="1119.83" y2="439.8" stroke="#8000ff" stroke-width="3" stroke-linecap="round"/>
<line x1="1125.23" y1="439.8" x2="1130.73" y2="439.8" stroke="#8000ff" stroke-width="3" stroke-linecap="round"/>
<line x1="1136.04" y1="444.7" x2="1141.54" y2="444.7" stroke="#8000ff" stroke-width="3" stroke-linecap="round"/>
<line x1="1146.94" y1="444.7" x2="1152.44" y2="444.7" stroke="#8000ff" stroke-width="3" stroke-linecap="round"/>
<line x1="1172.83" y1="455.6" x2="1178.33" y2="455.6" stroke="#8000ff" stroke-width="3" stroke-linecap="round"/>
<line x1="1183.73" y1="455.6" x2="1189.23" y2="455.6" stroke="#8000ff" stroke-width="3" stroke-linecap="round"/>
<line x1="1228.03" y1="466.3" x2="1233.53" y2="466.3" stroke="#8000ff" stroke-width="3" stroke-linecap="round"/>
<line x1="1238.93" y1="466.3" x2="1244.43" y2="466.3" stroke="#8000ff" stroke-width="3" stroke-linecap="round"/>
<line x1="1297.02" y1="481.7" x2="1302.52" y2="481.7" stroke="#8000ff" stroke-width="3" stroke-linecap="round"/>
<line x1="1307.92" y1="481.7" x2="1313.42" y2="481.7" stroke="#8000ff" stroke-width="3" stroke-linecap="round"/>
<line x1="1504.01" y1="519.3" x2="1509.51" y2="519.3" stroke="#8000ff" stroke-width="3" stroke-linecap="round"/>
<line x1="1514.91" y1="519.3" x2="1520.41" y2="519.3" stroke="#8000ff" stroke-width="3" stroke-linecap="round"/>
<line x1="1070.64" y1="429.1" x2="1070.64" y2="446.65" stroke="#ff8000" stroke-width="2.8" stroke-linecap="butt"/>
<line x1="1070.64" y1="468.35" x2="1070.64" y2="485.9" stroke="#ff8000" stroke-width="2.8" stroke-linecap="butt"/>
<line x1="1062.09" y1="429.1" x2="1079.19" y2="429.1" stroke="#ff8000" stroke-width="2.8" stroke-linecap="round"/>
<line x1="1062.09" y1="485.9" x2="1079.19" y2="485.9" stroke="#ff8000" stroke-width="2.8" stroke-linecap="round"/>
<line x1="1090.04" y1="467.7" x2="1095.54" y2="467.7" stroke="#ff8000" stroke-width="3" stroke-linecap="round"/>
<line x1="1100.94" y1="467.7" x2="1106.44" y2="467.7" stroke="#ff8000" stroke-width="3" stroke-linecap="round"/>
<line x1="1114.33" y1="475" x2="1119.83" y2="475" stroke="#ff8000" stroke-width="3" stroke-linecap="round"/>
<line x1="1125.23" y1="475" x2="1130.73" y2="475" stroke="#ff8000" stroke-width="3" stroke-linecap="round"/>
<line x1="1136.04" y1="475" x2="1141.54" y2="475" stroke="#ff8000" stroke-width="3" stroke-linecap="round"/>
<line x1="1146.94" y1="475" x2="1152.44" y2="475" stroke="#ff8000" stroke-width="3" stroke-linecap="round"/>
<line x1="1172.83" y1="479.6" x2="1178.33" y2="479.6" stroke="#ff8000" stroke-width="3" stroke-linecap="round"/>
<line x1="1183.73" y1="479.6" x2="1189.23" y2="479.6" stroke="#ff8000" stroke-width="3" stroke-linecap="round"/>
<line x1="1228.03" y1="486.7" x2="1233.53" y2="486.7" stroke="#ff8000" stroke-width="3" stroke-linecap="round"/>
<line x1="1238.93" y1="486.7" x2="1244.43" y2="486.7" stroke="#ff8000" stroke-width="3" stroke-linecap="round"/>
<line x1="1297.02" y1="497.6" x2="1302.52" y2="497.6" stroke="#ff8000" stroke-width="3" stroke-linecap="round"/>
<line x1="1307.92" y1="497.6" x2="1313.42" y2="497.6" stroke="#ff8000" stroke-width="3" stroke-linecap="round"/>
<line x1="1504.01" y1="527.2" x2="1509.51" y2="527.2" stroke="#ff8000" stroke-width="3" stroke-linecap="round"/>
<line x1="1514.91" y1="527.2" x2="1520.41" y2="527.2" stroke="#ff8000" stroke-width="3" stroke-linecap="round"/>
<line x1="1052.24" y1="469.2" x2="1052.24" y2="510.35" stroke="#0000ff" stroke-width="2.8" stroke-linecap="butt"/>
<line x1="1052.24" y1="532.05" x2="1052.24" y2="573.2" stroke="#0000ff" stroke-width="2.8" stroke-linecap="butt"/>
<line x1="1043.69" y1="469.2" x2="1060.79" y2="469.2" stroke="#0000ff" stroke-width="2.8" stroke-linecap="round"/>
<line x1="1043.69" y1="573.2" x2="1060.79" y2="573.2" stroke="#0000ff" stroke-width="2.8" stroke-linecap="round"/>
<line x1="1062.44" y1="521.6" x2="1067.94" y2="521.6" stroke="#0000ff" stroke-width="3" stroke-linecap="round"/>
<line x1="1073.34" y1="521.6" x2="1078.84" y2="521.6" stroke="#0000ff" stroke-width="3" stroke-linecap="round"/>
<line x1="1090.04" y1="508.8" x2="1095.54" y2="508.8" stroke="#0000ff" stroke-width="3" stroke-linecap="round"/>
<line x1="1100.94" y1="508.8" x2="1106.44" y2="508.8" stroke="#0000ff" stroke-width="3" stroke-linecap="round"/>
<line x1="1114.33" y1="501.7" x2="1119.83" y2="501.7" stroke="#0000ff" stroke-width="3" stroke-linecap="round"/>
<line x1="1125.23" y1="501.7" x2="1130.73" y2="501.7" stroke="#0000ff" stroke-width="3" stroke-linecap="round"/>
<line x1="1136.04" y1="499.8" x2="1141.54" y2="499.8" stroke="#0000ff" stroke-width="3" stroke-linecap="round"/>
<line x1="1146.94" y1="499.8" x2="1152.44" y2="499.8" stroke="#0000ff" stroke-width="3" stroke-linecap="round"/>
<line x1="1172.83" y1="500.7" x2="1178.33" y2="500.7" stroke="#0000ff" stroke-width="3" stroke-linecap="round"/>
<line x1="1183.73" y1="500.7" x2="1189.23" y2="500.7" stroke="#0000ff" stroke-width="3" stroke-linecap="round"/>
<line x1="1228.03" y1="504.9" x2="1233.53" y2="504.9" stroke="#0000ff" stroke-width="3" stroke-linecap="round"/>
<line x1="1238.93" y1="504.9" x2="1244.43" y2="504.9" stroke="#0000ff" stroke-width="3" stroke-linecap="round"/>
<line x1="1297.02" y1="512.3" x2="1302.52" y2="512.3" stroke="#0000ff" stroke-width="3" stroke-linecap="round"/>
<line x1="1307.92" y1="512.3" x2="1313.42" y2="512.3" stroke="#0000ff" stroke-width="3" stroke-linecap="round"/>
<line x1="1504.01" y1="535.9" x2="1509.51" y2="535.9" stroke="#0000ff" stroke-width="3" stroke-linecap="round"/>
<line x1="1514.91" y1="535.9" x2="1520.41" y2="535.9" stroke="#0000ff" stroke-width="3" stroke-linecap="round"/>
<line x1="1052.24" y1="549.4" x2="1052.24" y2="559.05" stroke="#ff80ff" stroke-width="2.8" stroke-linecap="butt"/>
<line x1="1052.24" y1="580.75" x2="1052.24" y2="590.4" stroke="#ff80ff" stroke-width="2.8" stroke-linecap="butt"/>
<line x1="1043.69" y1="549.4" x2="1060.79" y2="549.4" stroke="#ff80ff" stroke-width="2.8" stroke-linecap="round"/>
<line x1="1043.69" y1="590.4" x2="1060.79" y2="590.4" stroke="#ff80ff" stroke-width="2.8" stroke-linecap="round"/>
<line x1="1062.44" y1="536" x2="1067.94" y2="536" stroke="#ff80ff" stroke-width="3" stroke-linecap="round"/>
<line x1="1073.34" y1="536" x2="1078.84" y2="536" stroke="#ff80ff" stroke-width="3" stroke-linecap="round"/>
<line x1="1090.04" y1="526" x2="1095.54" y2="526" stroke="#ff80ff" stroke-width="3" stroke-linecap="round"/>
<line x1="1100.94" y1="526" x2="1106.44" y2="526" stroke="#ff80ff" stroke-width="3" stroke-linecap="round"/>
<line x1="1114.33" y1="521" x2="1119.83" y2="521" stroke="#ff80ff" stroke-width="3" stroke-linecap="round"/>
<line x1="1125.23" y1="521" x2="1130.73" y2="521" stroke="#ff80ff" stroke-width="3" stroke-linecap="round"/>
<line x1="1136.04" y1="520.1" x2="1141.54" y2="520.1" stroke="#ff80ff" stroke-width="3" stroke-linecap="round"/>
<line x1="1146.94" y1="520.1" x2="1152.44" y2="520.1" stroke="#ff80ff" stroke-width="3" stroke-linecap="round"/>
<line x1="1172.83" y1="518.5" x2="1178.33" y2="518.5" stroke="#ff80ff" stroke-width="3" stroke-linecap="round"/>
<line x1="1183.73" y1="518.5" x2="1189.23" y2="518.5" stroke="#ff80ff" stroke-width="3" stroke-linecap="round"/>
<line x1="1228.03" y1="520.7" x2="1233.53" y2="520.7" stroke="#ff80ff" stroke-width="3" stroke-linecap="round"/>
<line x1="1238.93" y1="520.7" x2="1244.43" y2="520.7" stroke="#ff80ff" stroke-width="3" stroke-linecap="round"/>
<line x1="1297.02" y1="525.9" x2="1302.52" y2="525.9" stroke="#ff80ff" stroke-width="3" stroke-linecap="round"/>
<line x1="1307.92" y1="525.9" x2="1313.42" y2="525.9" stroke="#ff80ff" stroke-width="3" stroke-linecap="round"/>
<line x1="1504.01" y1="543.9" x2="1509.51" y2="543.9" stroke="#ff80ff" stroke-width="3" stroke-linecap="round"/>
<line x1="1514.91" y1="543.9" x2="1520.41" y2="543.9" stroke="#ff80ff" stroke-width="3" stroke-linecap="round"/>
<line x1="1512.21" y1="507.85" x2="1512.21" y2="523.8" stroke="#8000ff" stroke-width="2.8" stroke-linecap="butt"/>
<line x1="1512.21" y1="500.75" x2="1512.21" y2="516.7" stroke="#ff0000" stroke-width="2.8" stroke-linecap="butt"/>
</g>
</g>
<g id="panel-c">
<rect x="140.6" y="827" width="662.1" height="662.1" fill="none" stroke="#000" stroke-width="2.6"/>
<line x1="195.78" y1="1489.1" x2="195.78" y2="1481.5" stroke="#000" stroke-width="2.2" stroke-linecap="round"/>
<line x1="250.95" y1="1489.1" x2="250.95" y2="1472.6" stroke="#000" stroke-width="2.2" stroke-linecap="round"/>
<line x1="306.12" y1="1489.1" x2="306.12" y2="1481.5" stroke="#000" stroke-width="2.2" stroke-linecap="round"/>
<line x1="361.3" y1="1489.1" x2="361.3" y2="1472.6" stroke="#000" stroke-width="2.2" stroke-linecap="round"/>
<line x1="416.48" y1="1489.1" x2="416.48" y2="1481.5" stroke="#000" stroke-width="2.2" stroke-linecap="round"/>
<line x1="471.65" y1="1489.1" x2="471.65" y2="1472.6" stroke="#000" stroke-width="2.2" stroke-linecap="round"/>
<line x1="526.82" y1="1489.1" x2="526.82" y2="1481.5" stroke="#000" stroke-width="2.2" stroke-linecap="round"/>
<line x1="582" y1="1489.1" x2="582" y2="1472.6" stroke="#000" stroke-width="2.2" stroke-linecap="round"/>
<line x1="637.17" y1="1489.1" x2="637.17" y2="1481.5" stroke="#000" stroke-width="2.2" stroke-linecap="round"/>
<line x1="692.35" y1="1489.1" x2="692.35" y2="1472.6" stroke="#000" stroke-width="2.2" stroke-linecap="round"/>
<line x1="747.53" y1="1489.1" x2="747.53" y2="1481.5" stroke="#000" stroke-width="2.2" stroke-linecap="round"/>
<line x1="140.6" y1="1378.75" x2="148.2" y2="1378.75" stroke="#000" stroke-width="2.2" stroke-linecap="round"/>
<line x1="140.6" y1="1268.4" x2="157.1" y2="1268.4" stroke="#000" stroke-width="2.2" stroke-linecap="round"/>
<line x1="140.6" y1="1158.05" x2="148.2" y2="1158.05" stroke="#000" stroke-width="2.2" stroke-linecap="round"/>
<line x1="140.6" y1="1047.7" x2="157.1" y2="1047.7" stroke="#000" stroke-width="2.2" stroke-linecap="round"/>
<line x1="140.6" y1="937.35" x2="148.2" y2="937.35" stroke="#000" stroke-width="2.2" stroke-linecap="round"/>
<g font-size="52.2" font-weight="bold" fill="#000">
<text x="143.1" y="1538.2" text-anchor="middle">0.0</text>
<text x="253.45" y="1538.2" text-anchor="middle">0.2</text>
<text x="363.8" y="1538.2" text-anchor="middle">0.4</text>
<text x="474.15" y="1538.2" text-anchor="middle">0.6</text>
<text x="584.5" y="1538.2" text-anchor="middle">0.8</text>
<text x="694.85" y="1538.2" text-anchor="middle">1.0</text>
<text x="805.2" y="1538.2" text-anchor="middle">1.2</text>
<text x="132.1" y="1499.1" text-anchor="end">0.0</text>
<text x="132.1" y="1278.4" text-anchor="end">0.6</text>
<text x="132.1" y="1057.7" text-anchor="end">1.2</text>
<text x="132.1" y="837" text-anchor="end">1.8</text>
</g>
<text x="471.25" y="1585.8" font-size="56.5" font-weight="bold" font-style="italic" text-anchor="middle">T</text>
<text x="153.7" y="880" font-size="50.5" font-weight="bold">(c)</text>
<text x="514.5" y="866.5" font-size="51.3" font-weight="bold"><tspan font-style="italic">U</tspan><tspan dx="-0.45" dy="4.1" stroke="#000" stroke-width="1.1">=</tspan><tspan dx="-2.1" dy="-4.1">5.0</tspan></text>
<line x1="324.35" y1="905.5" x2="400.45" y2="905.5" stroke="#00ff00" stroke-width="4.9" stroke-linecap="round"/>
<rect x="351.5" y="894.6" width="21.8" height="21.8" fill="#00ff00"/>
<text x="415.1" y="921.5" font-size="50" font-weight="bold"><tspan font-style="italic">t</tspan><tspan font-style="italic" font-size="33.5" dx="0.9" dy="14">ex</tspan><tspan dx="0.45" dy="-9.9" stroke="#000" stroke-width="1.1">=</tspan><tspan dx="-1.35" dy="-4.1">0.5</tspan></text>
<line x1="568.05" y1="905.5" x2="644.15" y2="905.5" stroke="#ff0000" stroke-width="4.9" stroke-linecap="round"/>
<rect x="595.2" y="894.6" width="21.8" height="21.8" fill="#ff0000"/>
<text x="658.8" y="921.5" font-size="50" font-weight="bold"><tspan font-style="italic">t</tspan><tspan font-style="italic" font-size="33.5" dx="0.9" dy="14">ex</tspan><tspan dx="0.45" dy="-9.9" stroke="#000" stroke-width="1.1">=</tspan><tspan dx="-1.35" dy="-4.1">0.6</tspan></text>
<line x1="324.35" y1="970.7" x2="346.55" y2="970.7" stroke="#8000ff" stroke-width="4.9" stroke-linecap="round"/>
<line x1="378.25" y1="970.7" x2="400.45" y2="970.7" stroke="#8000ff" stroke-width="4.9" stroke-linecap="round"/>
<rect x="351.5" y="959.8" width="21.8" height="21.8" fill="#8000ff"/>
<text x="415.1" y="986.7" font-size="50" font-weight="bold"><tspan font-style="italic">t</tspan><tspan font-style="italic" font-size="33.5" dx="0.9" dy="14">ex</tspan><tspan dx="0.45" dy="-9.9" stroke="#000" stroke-width="1.1">=</tspan><tspan dx="-1.35" dy="-4.1">0.7</tspan></text>
<line x1="568.05" y1="970.7" x2="590.25" y2="970.7" stroke="#ff8000" stroke-width="4.9" stroke-linecap="round"/>
<line x1="621.95" y1="970.7" x2="644.15" y2="970.7" stroke="#ff8000" stroke-width="4.9" stroke-linecap="round"/>
<rect x="595.2" y="959.8" width="21.8" height="21.8" fill="#ff8000"/>
<text x="658.8" y="986.7" font-size="50" font-weight="bold"><tspan font-style="italic">t</tspan><tspan font-style="italic" font-size="33.5" dx="0.9" dy="14">ex</tspan><tspan dx="0.45" dy="-9.9" stroke="#000" stroke-width="1.1">=</tspan><tspan dx="-1.35" dy="-4.1">0.8</tspan></text>
<line x1="324.35" y1="1035.9" x2="346.55" y2="1035.9" stroke="#0000ff" stroke-width="4.9" stroke-linecap="round"/>
<line x1="378.25" y1="1035.9" x2="400.45" y2="1035.9" stroke="#0000ff" stroke-width="4.9" stroke-linecap="round"/>
<rect x="351.5" y="1025" width="21.8" height="21.8" fill="#0000ff"/>
<text x="415.1" y="1051.9" font-size="50" font-weight="bold"><tspan font-style="italic">t</tspan><tspan font-style="italic" font-size="33.5" dx="0.9" dy="14">ex</tspan><tspan dx="0.45" dy="-9.9" stroke="#000" stroke-width="1.1">=</tspan><tspan dx="-1.35" dy="-4.1">0.9</tspan></text>
<line x1="568.05" y1="1035.9" x2="644.15" y2="1035.9" stroke="#ff80ff" stroke-width="4.9" stroke-linecap="round"/>
<rect x="595.2" y="1025" width="21.8" height="21.8" fill="#ff80ff"/>
<text x="658.8" y="1051.9" font-size="50" font-weight="bold"><tspan font-style="italic">t</tspan><tspan font-style="italic" font-size="33.5" dx="0.9" dy="14">ex</tspan><tspan dx="0.45" dy="-9.9" stroke="#000" stroke-width="1.1">=</tspan><tspan dx="-1.35" dy="-4.1">1.0</tspan></text>
<clipPath id="clip-c"><rect x="140.6" y="827" width="662.1" height="662.1"/></clipPath>
<g clip-path="url(#clip-c)">
<polyline points="302.81,1021 324.52,1096.2 361.3,1156.1 416.48,1188.1 485.44,1214.3 692.35,1274.7 832.7,1305.99" fill="none" stroke="#00ff00" stroke-width="4.8" stroke-linejoin="round" stroke-linecap="round"/>
<rect x="291.96" y="1010.15" width="21.7" height="21.7" fill="#00ff00"/>
<rect x="313.67" y="1085.35" width="21.7" height="21.7" fill="#00ff00"/>
<rect x="350.45" y="1145.25" width="21.7" height="21.7" fill="#00ff00"/>
<line x1="361.3" y1="1145.65" x2="361.3" y2="1166.55" stroke="#00ff00" stroke-width="2.4" stroke-linecap="round"/>
<rect x="405.62" y="1177.25" width="21.7" height="21.7" fill="#00ff00"/>
<line x1="416.48" y1="1177.65" x2="416.48" y2="1198.55" stroke="#00ff00" stroke-width="2.4" stroke-linecap="round"/>
<rect x="474.59" y="1203.45" width="21.7" height="21.7" fill="#00ff00"/>
<line x1="485.44" y1="1203.85" x2="485.44" y2="1224.75" stroke="#00ff00" stroke-width="2.4" stroke-linecap="round"/>
<rect x="681.5" y="1263.85" width="21.7" height="21.7" fill="#00ff00"/>
<line x1="692.35" y1="1264.25" x2="692.35" y2="1285.15" stroke="#00ff00" stroke-width="2.4" stroke-linecap="round"/>
<polyline points="324.52,1092.2 361.3,1183.4 416.48,1203.5 485.44,1228.2 692.35,1281.6 832.7,1310.6" fill="none" stroke="#ff0000" stroke-width="4.8" stroke-linejoin="round" stroke-linecap="round"/>
<rect x="313.67" y="1081.35" width="21.7" height="21.7" fill="#ff0000"/>
<rect x="350.45" y="1172.55" width="21.7" height="21.7" fill="#ff0000"/>
<line x1="361.3" y1="1172.95" x2="361.3" y2="1193.85" stroke="#ff0000" stroke-width="2.4" stroke-linecap="round"/>
<rect x="405.62" y="1192.65" width="21.7" height="21.7" fill="#ff0000"/>
<line x1="416.48" y1="1193.05" x2="416.48" y2="1213.95" stroke="#ff0000" stroke-width="2.4" stroke-linecap="round"/>
<rect x="474.59" y="1217.35" width="21.7" height="21.7" fill="#ff0000"/>
<line x1="485.44" y1="1217.75" x2="485.44" y2="1238.65" stroke="#ff0000" stroke-width="2.4" stroke-linecap="round"/>
<rect x="681.5" y="1270.75" width="21.7" height="21.7" fill="#ff0000"/>
<line x1="692.35" y1="1271.15" x2="692.35" y2="1292.05" stroke="#ff0000" stroke-width="2.4" stroke-linecap="round"/>
<line x1="340.12" y1="1200.57" x2="345.69" y2="1203.23" stroke="#8000ff" stroke-width="4.8" stroke-linecap="round"/>
<line x1="378.23" y1="1214.26" x2="399.55" y2="1218.74" stroke="#8000ff" stroke-width="4.8" stroke-linecap="round"/>
<line x1="433.05" y1="1227.25" x2="468.87" y2="1237.95" stroke="#8000ff" stroke-width="4.8" stroke-linecap="round"/>
<line x1="502.32" y1="1246.7" x2="675.47" y2="1285.7" stroke="#8000ff" stroke-width="4.8" stroke-linecap="round"/>
<line x1="709.36" y1="1292.66" x2="832.7" y2="1315.57" stroke="#8000ff" stroke-width="4.8" stroke-linecap="round"/>
<rect x="291.96" y="1194.05" width="21.7" height="21.7" fill="#8000ff"/>
<rect x="313.67" y="1182.25" width="21.7" height="21.7" fill="#8000ff"/>
<line x1="324.52" y1="1182.65" x2="324.52" y2="1203.55" stroke="#8000ff" stroke-width="2.4" stroke-linecap="round"/>
<rect x="350.45" y="1199.85" width="21.7" height="21.7" fill="#8000ff"/>
<line x1="361.3" y1="1200.25" x2="361.3" y2="1221.15" stroke="#8000ff" stroke-width="2.4" stroke-linecap="round"/>
<rect x="405.62" y="1211.45" width="21.7" height="21.7" fill="#8000ff"/>
<line x1="416.48" y1="1211.85" x2="416.48" y2="1232.75" stroke="#8000ff" stroke-width="2.4" stroke-linecap="round"/>
<rect x="474.59" y="1232.05" width="21.7" height="21.7" fill="#8000ff"/>
<line x1="485.44" y1="1232.45" x2="485.44" y2="1253.35" stroke="#8000ff" stroke-width="2.4" stroke-linecap="round"/>
<rect x="681.5" y="1278.65" width="21.7" height="21.7" fill="#8000ff"/>
<line x1="692.35" y1="1279.05" x2="692.35" y2="1299.95" stroke="#8000ff" stroke-width="2.4" stroke-linecap="round"/>
<line x1="285.33" y1="1168.91" x2="296.03" y2="1193.99" stroke="#ff8000" stroke-width="4.8" stroke-linecap="round"/>
<line x1="340.12" y1="1223.47" x2="345.69" y2="1226.13" stroke="#ff8000" stroke-width="4.8" stroke-linecap="round"/>
<line x1="378.36" y1="1236.45" x2="399.41" y2="1239.95" stroke="#ff8000" stroke-width="4.8" stroke-linecap="round"/>
<line x1="433.34" y1="1246.64" x2="468.58" y2="1254.66" stroke="#ff8000" stroke-width="4.8" stroke-linecap="round"/>
<line x1="502.44" y1="1261.73" x2="675.35" y2="1294.57" stroke="#ff8000" stroke-width="4.8" stroke-linecap="round"/>
<line x1="709.41" y1="1300.69" x2="832.7" y2="1321.58" stroke="#ff8000" stroke-width="4.8" stroke-linecap="round"/>
<rect x="267.69" y="1142.15" width="21.7" height="21.7" fill="#ff8000"/>
<rect x="291.96" y="1199.05" width="21.7" height="21.7" fill="#ff8000"/>
<rect x="313.67" y="1205.15" width="21.7" height="21.7" fill="#ff8000"/>
<line x1="324.52" y1="1205.55" x2="324.52" y2="1226.45" stroke="#ff8000" stroke-width="2.4" stroke-linecap="round"/>
<rect x="350.45" y="1222.75" width="21.7" height="21.7" fill="#ff8000"/>
<line x1="361.3" y1="1223.15" x2="361.3" y2="1244.05" stroke="#ff8000" stroke-width="2.4" stroke-linecap="round"/>
<rect x="405.62" y="1231.95" width="21.7" height="21.7" fill="#ff8000"/>
<line x1="416.48" y1="1232.35" x2="416.48" y2="1253.25" stroke="#ff8000" stroke-width="2.4" stroke-linecap="round"/>
<rect x="474.59" y="1247.65" width="21.7" height="21.7" fill="#ff8000"/>
<line x1="485.44" y1="1248.05" x2="485.44" y2="1268.95" stroke="#ff8000" stroke-width="2.4" stroke-linecap="round"/>
<rect x="681.5" y="1286.95" width="21.7" height="21.7" fill="#ff8000"/>
<line x1="692.35" y1="1287.35" x2="692.35" y2="1308.25" stroke="#ff8000" stroke-width="2.4" stroke-linecap="round"/>
<line x1="341.79" y1="1254.89" x2="344.03" y2="1255.01" stroke="#0000ff" stroke-width="4.8" stroke-linecap="round"/>
<line x1="378.38" y1="1258.75" x2="399.4" y2="1262.15" stroke="#0000ff" stroke-width="4.8" stroke-linecap="round"/>
<line x1="433.57" y1="1267.58" x2="468.35" y2="1273.02" stroke="#0000ff" stroke-width="4.8" stroke-linecap="round"/>
<line x1="502.55" y1="1278.27" x2="675.24" y2="1304.23" stroke="#0000ff" stroke-width="4.8" stroke-linecap="round"/>
<line x1="709.46" y1="1309.33" x2="832.7" y2="1327.53" stroke="#0000ff" stroke-width="4.8" stroke-linecap="round"/>
<rect x="267.69" y="1244.15" width="21.7" height="21.7" fill="#0000ff"/>
<rect x="291.96" y="1245.55" width="21.7" height="21.7" fill="#0000ff"/>
<line x1="302.81" y1="1245.95" x2="302.81" y2="1266.85" stroke="#0000ff" stroke-width="2.4" stroke-linecap="round"/>
<rect x="313.67" y="1243.05" width="21.7" height="21.7" fill="#0000ff"/>
<line x1="324.52" y1="1243.45" x2="324.52" y2="1264.35" stroke="#0000ff" stroke-width="2.4" stroke-linecap="round"/>
<rect x="350.45" y="1245.15" width="21.7" height="21.7" fill="#0000ff"/>
<line x1="361.3" y1="1245.55" x2="361.3" y2="1266.45" stroke="#0000ff" stroke-width="2.4" stroke-linecap="round"/>
<rect x="405.62" y="1254.05" width="21.7" height="21.7" fill="#0000ff"/>
<line x1="416.48" y1="1254.45" x2="416.48" y2="1275.35" stroke="#0000ff" stroke-width="2.4" stroke-linecap="round"/>
<rect x="474.59" y="1264.85" width="21.7" height="21.7" fill="#0000ff"/>
<line x1="485.44" y1="1265.25" x2="485.44" y2="1286.15" stroke="#0000ff" stroke-width="2.4" stroke-linecap="round"/>
<rect x="681.5" y="1295.95" width="21.7" height="21.7" fill="#0000ff"/>
<line x1="692.35" y1="1296.35" x2="692.35" y2="1317.25" stroke="#0000ff" stroke-width="2.4" stroke-linecap="round"/>
<polyline points="278.54,1269.6 302.81,1272.7 324.52,1274 361.3,1280.7 416.48,1283.3 485.44,1292.8 692.35,1316.1 832.7,1334.41" fill="none" stroke="#ff80ff" stroke-width="4.8" stroke-linejoin="round" stroke-linecap="round"/>
<rect x="267.69" y="1258.75" width="21.7" height="21.7" fill="#ff80ff"/>
<rect x="291.96" y="1261.85" width="21.7" height="21.7" fill="#ff80ff"/>
<line x1="302.81" y1="1262.25" x2="302.81" y2="1283.15" stroke="#ff80ff" stroke-width="2.4" stroke-linecap="round"/>
<rect x="313.67" y="1263.15" width="21.7" height="21.7" fill="#ff80ff"/>
<line x1="324.52" y1="1263.55" x2="324.52" y2="1284.45" stroke="#ff80ff" stroke-width="2.4" stroke-linecap="round"/>
<rect x="350.45" y="1269.85" width="21.7" height="21.7" fill="#ff80ff"/>
<line x1="361.3" y1="1270.25" x2="361.3" y2="1291.15" stroke="#ff80ff" stroke-width="2.4" stroke-linecap="round"/>
<rect x="405.62" y="1272.45" width="21.7" height="21.7" fill="#ff80ff"/>
<line x1="416.48" y1="1272.85" x2="416.48" y2="1293.75" stroke="#ff80ff" stroke-width="2.4" stroke-linecap="round"/>
<rect x="474.59" y="1281.95" width="21.7" height="21.7" fill="#ff80ff"/>
<line x1="485.44" y1="1282.35" x2="485.44" y2="1303.25" stroke="#ff80ff" stroke-width="2.4" stroke-linecap="round"/>
<rect x="681.5" y="1305.25" width="21.7" height="21.7" fill="#ff80ff"/>
<line x1="692.35" y1="1305.65" x2="692.35" y2="1326.55" stroke="#ff80ff" stroke-width="2.4" stroke-linecap="round"/>
<line x1="302.81" y1="930.9" x2="302.81" y2="1010.15" stroke="#00ff00" stroke-width="2.8" stroke-linecap="butt"/>
<line x1="302.81" y1="1031.85" x2="302.81" y2="1111.1" stroke="#00ff00" stroke-width="2.8" stroke-linecap="butt"/>
<line x1="294.26" y1="930.9" x2="311.36" y2="930.9" stroke="#00ff00" stroke-width="2.8" stroke-linecap="round"/>
<line x1="294.26" y1="1111.1" x2="311.36" y2="1111.1" stroke="#00ff00" stroke-width="2.8" stroke-linecap="round"/>
<line x1="324.52" y1="1078" x2="324.52" y2="1085.35" stroke="#00ff00" stroke-width="2.8" stroke-linecap="butt"/>
<line x1="324.52" y1="1107.05" x2="324.52" y2="1114.4" stroke="#00ff00" stroke-width="2.8" stroke-linecap="butt"/>
<line x1="315.97" y1="1078" x2="333.07" y2="1078" stroke="#00ff00" stroke-width="2.8" stroke-linecap="round"/>
<line x1="315.97" y1="1114.4" x2="333.07" y2="1114.4" stroke="#00ff00" stroke-width="2.8" stroke-linecap="round"/>
<line x1="353.1" y1="1156.1" x2="358.6" y2="1156.1" stroke="#00ff00" stroke-width="3" stroke-linecap="round"/>
<line x1="364" y1="1156.1" x2="369.5" y2="1156.1" stroke="#00ff00" stroke-width="3" stroke-linecap="round"/>
<line x1="408.28" y1="1188.1" x2="413.78" y2="1188.1" stroke="#00ff00" stroke-width="3" stroke-linecap="round"/>
<line x1="419.18" y1="1188.1" x2="424.68" y2="1188.1" stroke="#00ff00" stroke-width="3" stroke-linecap="round"/>
<line x1="477.24" y1="1214.3" x2="482.74" y2="1214.3" stroke="#00ff00" stroke-width="3" stroke-linecap="round"/>
<line x1="488.14" y1="1214.3" x2="493.64" y2="1214.3" stroke="#00ff00" stroke-width="3" stroke-linecap="round"/>
<line x1="684.15" y1="1274.7" x2="689.65" y2="1274.7" stroke="#00ff00" stroke-width="3" stroke-linecap="round"/>
<line x1="695.05" y1="1274.7" x2="700.55" y2="1274.7" stroke="#00ff00" stroke-width="3" stroke-linecap="round"/>
<line x1="324.52" y1="1065.4" x2="324.52" y2="1081.35" stroke="#ff0000" stroke-width="2.8" stroke-linecap="butt"/>
<line x1="324.52" y1="1103.05" x2="324.52" y2="1119" stroke="#ff0000" stroke-width="2.8" stroke-linecap="butt"/>
<line x1="315.97" y1="1065.4" x2="333.07" y2="1065.4" stroke="#ff0000" stroke-width="2.8" stroke-linecap="round"/>
<line x1="315.97" y1="1119" x2="333.07" y2="1119" stroke="#ff0000" stroke-width="2.8" stroke-linecap="round"/>
<line x1="353.1" y1="1183.4" x2="358.6" y2="1183.4" stroke="#ff0000" stroke-width="3" stroke-linecap="round"/>
<line x1="364" y1="1183.4" x2="369.5" y2="1183.4" stroke="#ff0000" stroke-width="3" stroke-linecap="round"/>
<line x1="408.28" y1="1203.5" x2="413.78" y2="1203.5" stroke="#ff0000" stroke-width="3" stroke-linecap="round"/>
<line x1="419.18" y1="1203.5" x2="424.68" y2="1203.5" stroke="#ff0000" stroke-width="3" stroke-linecap="round"/>
<line x1="477.24" y1="1228.2" x2="482.74" y2="1228.2" stroke="#ff0000" stroke-width="3" stroke-linecap="round"/>
<line x1="488.14" y1="1228.2" x2="493.64" y2="1228.2" stroke="#ff0000" stroke-width="3" stroke-linecap="round"/>
<line x1="684.15" y1="1281.6" x2="689.65" y2="1281.6" stroke="#ff0000" stroke-width="3" stroke-linecap="round"/>
<line x1="695.05" y1="1281.6" x2="700.55" y2="1281.6" stroke="#ff0000" stroke-width="3" stroke-linecap="round"/>
<line x1="302.81" y1="1183.4" x2="302.81" y2="1194.05" stroke="#8000ff" stroke-width="2.8" stroke-linecap="butt"/>
<line x1="302.81" y1="1215.75" x2="302.81" y2="1226.4" stroke="#8000ff" stroke-width="2.8" stroke-linecap="butt"/>
<line x1="294.26" y1="1183.4" x2="311.36" y2="1183.4" stroke="#8000ff" stroke-width="2.8" stroke-linecap="round"/>
<line x1="294.26" y1="1226.4" x2="311.36" y2="1226.4" stroke="#8000ff" stroke-width="2.8" stroke-linecap="round"/>
<line x1="316.32" y1="1193.1" x2="321.82" y2="1193.1" stroke="#8000ff" stroke-width="3" stroke-linecap="round"/>
<line x1="327.22" y1="1193.1" x2="332.72" y2="1193.1" stroke="#8000ff" stroke-width="3" stroke-linecap="round"/>
<line x1="353.1" y1="1210.7" x2="358.6" y2="1210.7" stroke="#8000ff" stroke-width="3" stroke-linecap="round"/>
<line x1="364" y1="1210.7" x2="369.5" y2="1210.7" stroke="#8000ff" stroke-width="3" stroke-linecap="round"/>
<line x1="408.28" y1="1222.3" x2="413.78" y2="1222.3" stroke="#8000ff" stroke-width="3" stroke-linecap="round"/>
<line x1="419.18" y1="1222.3" x2="424.68" y2="1222.3" stroke="#8000ff" stroke-width="3" stroke-linecap="round"/>
<line x1="477.24" y1="1242.9" x2="482.74" y2="1242.9" stroke="#8000ff" stroke-width="3" stroke-linecap="round"/>
<line x1="488.14" y1="1242.9" x2="493.64" y2="1242.9" stroke="#8000ff" stroke-width="3" stroke-linecap="round"/>
<line x1="684.15" y1="1289.5" x2="689.65" y2="1289.5" stroke="#8000ff" stroke-width="3" stroke-linecap="round"/>
<line x1="695.05" y1="1289.5" x2="700.55" y2="1289.5" stroke="#8000ff" stroke-width="3" stroke-linecap="round"/>
<line x1="278.54" y1="1110.8" x2="278.54" y2="1142.15" stroke="#ff8000" stroke-width="2.8" stroke-linecap="butt"/>
<line x1="278.54" y1="1163.85" x2="278.54" y2="1195.2" stroke="#ff8000" stroke-width="2.8" stroke-linecap="butt"/>
<line x1="269.99" y1="1110.8" x2="287.09" y2="1110.8" stroke="#ff8000" stroke-width="2.8" stroke-linecap="round"/>
<line x1="269.99" y1="1195.2" x2="287.09" y2="1195.2" stroke="#ff8000" stroke-width="2.8" stroke-linecap="round"/>
<line x1="302.81" y1="1195.4" x2="302.81" y2="1199.05" stroke="#ff8000" stroke-width="2.8" stroke-linecap="butt"/>
<line x1="302.81" y1="1220.75" x2="302.81" y2="1224.4" stroke="#ff8000" stroke-width="2.8" stroke-linecap="butt"/>
<line x1="294.26" y1="1195.4" x2="311.36" y2="1195.4" stroke="#ff8000" stroke-width="2.8" stroke-linecap="round"/>
<line x1="294.26" y1="1224.4" x2="311.36" y2="1224.4" stroke="#ff8000" stroke-width="2.8" stroke-linecap="round"/>
<line x1="316.32" y1="1216" x2="321.82" y2="1216" stroke="#ff8000" stroke-width="3" stroke-linecap="round"/>
<line x1="327.22" y1="1216" x2="332.72" y2="1216" stroke="#ff8000" stroke-width="3" stroke-linecap="round"/>
<line x1="353.1" y1="1233.6" x2="358.6" y2="1233.6" stroke="#ff8000" stroke-width="3" stroke-linecap="round"/>
<line x1="364" y1="1233.6" x2="369.5" y2="1233.6" stroke="#ff8000" stroke-width="3" stroke-linecap="round"/>
<line x1="408.28" y1="1242.8" x2="413.78" y2="1242.8" stroke="#ff8000" stroke-width="3" stroke-linecap="round"/>
<line x1="419.18" y1="1242.8" x2="424.68" y2="1242.8" stroke="#ff8000" stroke-width="3" stroke-linecap="round"/>
<line x1="477.24" y1="1258.5" x2="482.74" y2="1258.5" stroke="#ff8000" stroke-width="3" stroke-linecap="round"/>
<line x1="488.14" y1="1258.5" x2="493.64" y2="1258.5" stroke="#ff8000" stroke-width="3" stroke-linecap="round"/>
<line x1="684.15" y1="1297.8" x2="689.65" y2="1297.8" stroke="#ff8000" stroke-width="3" stroke-linecap="round"/>
<line x1="695.05" y1="1297.8" x2="700.55" y2="1297.8" stroke="#ff8000" stroke-width="3" stroke-linecap="round"/>
<line x1="278.54" y1="1190.5" x2="278.54" y2="1244.15" stroke="#0000ff" stroke-width="2.8" stroke-linecap="butt"/>
<line x1="278.54" y1="1265.85" x2="278.54" y2="1319.5" stroke="#0000ff" stroke-width="2.8" stroke-linecap="butt"/>
<line x1="269.99" y1="1190.5" x2="287.09" y2="1190.5" stroke="#0000ff" stroke-width="2.8" stroke-linecap="round"/>
<line x1="269.99" y1="1319.5" x2="287.09" y2="1319.5" stroke="#0000ff" stroke-width="2.8" stroke-linecap="round"/>
<line x1="294.61" y1="1256.4" x2="300.11" y2="1256.4" stroke="#0000ff" stroke-width="3" stroke-linecap="round"/>
<line x1="305.51" y1="1256.4" x2="311.01" y2="1256.4" stroke="#0000ff" stroke-width="3" stroke-linecap="round"/>
<line x1="316.32" y1="1253.9" x2="321.82" y2="1253.9" stroke="#0000ff" stroke-width="3" stroke-linecap="round"/>
<line x1="327.22" y1="1253.9" x2="332.72" y2="1253.9" stroke="#0000ff" stroke-width="3" stroke-linecap="round"/>
<line x1="353.1" y1="1256" x2="358.6" y2="1256" stroke="#0000ff" stroke-width="3" stroke-linecap="round"/>
<line x1="364" y1="1256" x2="369.5" y2="1256" stroke="#0000ff" stroke-width="3" stroke-linecap="round"/>
<line x1="408.28" y1="1264.9" x2="413.78" y2="1264.9" stroke="#0000ff" stroke-width="3" stroke-linecap="round"/>
<line x1="419.18" y1="1264.9" x2="424.68" y2="1264.9" stroke="#0000ff" stroke-width="3" stroke-linecap="round"/>
<line x1="477.24" y1="1275.7" x2="482.74" y2="1275.7" stroke="#0000ff" stroke-width="3" stroke-linecap="round"/>
<line x1="488.14" y1="1275.7" x2="493.64" y2="1275.7" stroke="#0000ff" stroke-width="3" stroke-linecap="round"/>
<line x1="684.15" y1="1306.8" x2="689.65" y2="1306.8" stroke="#0000ff" stroke-width="3" stroke-linecap="round"/>
<line x1="695.05" y1="1306.8" x2="700.55" y2="1306.8" stroke="#0000ff" stroke-width="3" stroke-linecap="round"/>
<line x1="278.54" y1="1204.2" x2="278.54" y2="1258.75" stroke="#ff80ff" stroke-width="2.8" stroke-linecap="butt"/>
<line x1="278.54" y1="1280.45" x2="278.54" y2="1335" stroke="#ff80ff" stroke-width="2.8" stroke-linecap="butt"/>
<line x1="269.99" y1="1204.2" x2="287.09" y2="1204.2" stroke="#ff80ff" stroke-width="2.8" stroke-linecap="round"/>
<line x1="269.99" y1="1335" x2="287.09" y2="1335" stroke="#ff80ff" stroke-width="2.8" stroke-linecap="round"/>
<line x1="294.61" y1="1272.7" x2="300.11" y2="1272.7" stroke="#ff80ff" stroke-width="3" stroke-linecap="round"/>
<line x1="305.51" y1="1272.7" x2="311.01" y2="1272.7" stroke="#ff80ff" stroke-width="3" stroke-linecap="round"/>
<line x1="316.32" y1="1274" x2="321.82" y2="1274" stroke="#ff80ff" stroke-width="3" stroke-linecap="round"/>
<line x1="327.22" y1="1274" x2="332.72" y2="1274" stroke="#ff80ff" stroke-width="3" stroke-linecap="round"/>
<line x1="353.1" y1="1280.7" x2="358.6" y2="1280.7" stroke="#ff80ff" stroke-width="3" stroke-linecap="round"/>
<line x1="364" y1="1280.7" x2="369.5" y2="1280.7" stroke="#ff80ff" stroke-width="3" stroke-linecap="round"/>
<line x1="408.28" y1="1283.3" x2="413.78" y2="1283.3" stroke="#ff80ff" stroke-width="3" stroke-linecap="round"/>
<line x1="419.18" y1="1283.3" x2="424.68" y2="1283.3" stroke="#ff80ff" stroke-width="3" stroke-linecap="round"/>
<line x1="477.24" y1="1292.8" x2="482.74" y2="1292.8" stroke="#ff80ff" stroke-width="3" stroke-linecap="round"/>
<line x1="488.14" y1="1292.8" x2="493.64" y2="1292.8" stroke="#ff80ff" stroke-width="3" stroke-linecap="round"/>
<line x1="684.15" y1="1316.1" x2="689.65" y2="1316.1" stroke="#ff80ff" stroke-width="3" stroke-linecap="round"/>
<line x1="695.05" y1="1316.1" x2="700.55" y2="1316.1" stroke="#ff80ff" stroke-width="3" stroke-linecap="round"/>
<line x1="692.35" y1="1278.05" x2="692.35" y2="1294" stroke="#8000ff" stroke-width="2.8" stroke-linecap="butt"/>
<line x1="692.35" y1="1270.15" x2="692.35" y2="1286.1" stroke="#ff0000" stroke-width="2.8" stroke-linecap="butt"/>
</g>
</g>
<g id="panel-d">
<rect x="960.25" y="827" width="662.35" height="662.1" fill="none" stroke="#000" stroke-width="2.6"/>
<line x1="1015.45" y1="1489.1" x2="1015.45" y2="1481.5" stroke="#000" stroke-width="2.2" stroke-linecap="round"/>
<line x1="1070.64" y1="1489.1" x2="1070.64" y2="1472.6" stroke="#000" stroke-width="2.2" stroke-linecap="round"/>
<line x1="1125.84" y1="1489.1" x2="1125.84" y2="1481.5" stroke="#000" stroke-width="2.2" stroke-linecap="round"/>
<line x1="1181.03" y1="1489.1" x2="1181.03" y2="1472.6" stroke="#000" stroke-width="2.2" stroke-linecap="round"/>
<line x1="1236.23" y1="1489.1" x2="1236.23" y2="1481.5" stroke="#000" stroke-width="2.2" stroke-linecap="round"/>
<line x1="1291.42" y1="1489.1" x2="1291.42" y2="1472.6" stroke="#000" stroke-width="2.2" stroke-linecap="round"/>
<line x1="1346.62" y1="1489.1" x2="1346.62" y2="1481.5" stroke="#000" stroke-width="2.2" stroke-linecap="round"/>
<line x1="1401.82" y1="1489.1" x2="1401.82" y2="1472.6" stroke="#000" stroke-width="2.2" stroke-linecap="round"/>
<line x1="1457.01" y1="1489.1" x2="1457.01" y2="1481.5" stroke="#000" stroke-width="2.2" stroke-linecap="round"/>
<line x1="1512.21" y1="1489.1" x2="1512.21" y2="1472.6" stroke="#000" stroke-width="2.2" stroke-linecap="round"/>
<line x1="1567.4" y1="1489.1" x2="1567.4" y2="1481.5" stroke="#000" stroke-width="2.2" stroke-linecap="round"/>
<line x1="960.25" y1="1378.75" x2="967.85" y2="1378.75" stroke="#000" stroke-width="2.2" stroke-linecap="round"/>
<line x1="960.25" y1="1268.4" x2="976.75" y2="1268.4" stroke="#000" stroke-width="2.2" stroke-linecap="round"/>
<line x1="960.25" y1="1158.05" x2="967.85" y2="1158.05" stroke="#000" stroke-width="2.2" stroke-linecap="round"/>
<line x1="960.25" y1="1047.7" x2="976.75" y2="1047.7" stroke="#000" stroke-width="2.2" stroke-linecap="round"/>
<line x1="960.25" y1="937.35" x2="967.85" y2="937.35" stroke="#000" stroke-width="2.2" stroke-linecap="round"/>
<g font-size="52.2" font-weight="bold" fill="#000">
<text x="962.35" y="1538.2" text-anchor="middle">0.0</text>
<text x="1072.74" y="1538.2" text-anchor="middle">0.2</text>
<text x="1183.13" y="1538.2" text-anchor="middle">0.4</text>
<text x="1293.52" y="1538.2" text-anchor="middle">0.6</text>
<text x="1403.92" y="1538.2" text-anchor="middle">0.8</text>
<text x="1514.31" y="1538.2" text-anchor="middle">1.0</text>
<text x="1624.7" y="1538.2" text-anchor="middle">1.2</text>
<text x="951" y="1499.1" text-anchor="end">0.0</text>
<text x="951" y="1278.4" text-anchor="end">0.6</text>
<text x="951" y="1057.7" text-anchor="end">1.2</text>
<text x="951" y="837" text-anchor="end">1.8</text>
</g>
<text x="1290.58" y="1588.9" font-size="56.5" font-weight="bold" font-style="italic" text-anchor="middle">T</text>
<text x="971.7" y="878.2" font-size="50.5" font-weight="bold">(d)</text>
<text x="1335.3" y="869.7" font-size="51.3" font-weight="bold"><tspan font-style="italic">U</tspan><tspan dx="-0.45" dy="4.1" stroke="#000" stroke-width="1.1">=</tspan><tspan dx="-2.1" dy="-4.1">6.0</tspan></text>
<line x1="1145.65" y1="909.4" x2="1221.75" y2="909.4" stroke="#00ff00" stroke-width="4.9" stroke-linecap="round"/>
<rect x="1172.8" y="898.5" width="21.8" height="21.8" fill="#00ff00"/>
<text x="1236.3" y="925.4" font-size="50" font-weight="bold"><tspan font-style="italic">t</tspan><tspan font-style="italic" font-size="33.5" dx="0.9" dy="14">ex</tspan><tspan dx="0.45" dy="-9.9" stroke="#000" stroke-width="1.1">=</tspan><tspan dx="-1.35" dy="-4.1">0.5</tspan></text>
<line x1="1389.15" y1="909.4" x2="1465.25" y2="909.4" stroke="#ff0000" stroke-width="4.9" stroke-linecap="round"/>
<rect x="1416.3" y="898.5" width="21.8" height="21.8" fill="#ff0000"/>
<text x="1479.8" y="925.4" font-size="50" font-weight="bold"><tspan font-style="italic">t</tspan><tspan font-style="italic" font-size="33.5" dx="0.9" dy="14">ex</tspan><tspan dx="0.45" dy="-9.9" stroke="#000" stroke-width="1.1">=</tspan><tspan dx="-1.35" dy="-4.1">0.6</tspan></text>
<line x1="1145.65" y1="974.6" x2="1167.85" y2="974.6" stroke="#8000ff" stroke-width="4.9" stroke-linecap="round"/>
<line x1="1199.55" y1="974.6" x2="1221.75" y2="974.6" stroke="#8000ff" stroke-width="4.9" stroke-linecap="round"/>
<rect x="1172.8" y="963.7" width="21.8" height="21.8" fill="#8000ff"/>
<text x="1236.3" y="990.6" font-size="50" font-weight="bold"><tspan font-style="italic">t</tspan><tspan font-style="italic" font-size="33.5" dx="0.9" dy="14">ex</tspan><tspan dx="0.45" dy="-9.9" stroke="#000" stroke-width="1.1">=</tspan><tspan dx="-1.35" dy="-4.1">0.7</tspan></text>
<line x1="1389.15" y1="974.6" x2="1411.35" y2="974.6" stroke="#ff8000" stroke-width="4.9" stroke-linecap="round"/>
<line x1="1443.05" y1="974.6" x2="1465.25" y2="974.6" stroke="#ff8000" stroke-width="4.9" stroke-linecap="round"/>
<rect x="1416.3" y="963.7" width="21.8" height="21.8" fill="#ff8000"/>
<text x="1479.8" y="990.6" font-size="50" font-weight="bold"><tspan font-style="italic">t</tspan><tspan font-style="italic" font-size="33.5" dx="0.9" dy="14">ex</tspan><tspan dx="0.45" dy="-9.9" stroke="#000" stroke-width="1.1">=</tspan><tspan dx="-1.35" dy="-4.1">0.8</tspan></text>
<line x1="1145.65" y1="1039.8" x2="1167.85" y2="1039.8" stroke="#0000ff" stroke-width="4.9" stroke-linecap="round"/>
<line x1="1199.55" y1="1039.8" x2="1221.75" y2="1039.8" stroke="#0000ff" stroke-width="4.9" stroke-linecap="round"/>
<rect x="1172.8" y="1028.9" width="21.8" height="21.8" fill="#0000ff"/>
<text x="1236.3" y="1055.8" font-size="50" font-weight="bold"><tspan font-style="italic">t</tspan><tspan font-style="italic" font-size="33.5" dx="0.9" dy="14">ex</tspan><tspan dx="0.45" dy="-9.9" stroke="#000" stroke-width="1.1">=</tspan><tspan dx="-1.35" dy="-4.1">0.9</tspan></text>
<line x1="1389.15" y1="1039.8" x2="1465.25" y2="1039.8" stroke="#ff80ff" stroke-width="4.9" stroke-linecap="round"/>
<rect x="1416.3" y="1028.9" width="21.8" height="21.8" fill="#ff80ff"/>
<text x="1479.8" y="1055.8" font-size="50" font-weight="bold"><tspan font-style="italic">t</tspan><tspan font-style="italic" font-size="33.5" dx="0.9" dy="14">ex</tspan><tspan dx="0.45" dy="-9.9" stroke="#000" stroke-width="1.1">=</tspan><tspan dx="-1.35" dy="-4.1">1.0</tspan></text>
<clipPath id="clip-d"><rect x="960.25" y="827" width="662.35" height="662.1"/></clipPath>
<g clip-path="url(#clip-d)">
<polyline points="1144.24,1107.2 1181.03,1147.4 1236.23,1156.5 1305.22,1186.3 1512.21,1257.9 1652.6,1293.51" fill="none" stroke="#00ff00" stroke-width="4.8" stroke-linejoin="round" stroke-linecap="round"/>
<rect x="1133.39" y="1096.35" width="21.7" height="21.7" fill="#00ff00"/>
<rect x="1170.18" y="1136.55" width="21.7" height="21.7" fill="#00ff00"/>
<rect x="1225.38" y="1145.65" width="21.7" height="21.7" fill="#00ff00"/>
<line x1="1236.23" y1="1146.05" x2="1236.23" y2="1166.95" stroke="#00ff00" stroke-width="2.4" stroke-linecap="round"/>
<rect x="1294.37" y="1175.45" width="21.7" height="21.7" fill="#00ff00"/>
<line x1="1305.22" y1="1175.85" x2="1305.22" y2="1196.75" stroke="#00ff00" stroke-width="2.4" stroke-linecap="round"/>
<rect x="1501.36" y="1247.05" width="21.7" height="21.7" fill="#00ff00"/>
<line x1="1512.21" y1="1247.45" x2="1512.21" y2="1268.35" stroke="#00ff00" stroke-width="2.4" stroke-linecap="round"/>
<polyline points="1144.24,1057.9 1181.03,1132 1236.23,1174.9 1305.22,1199.6 1512.21,1264.1 1652.6,1298.06" fill="none" stroke="#ff0000" stroke-width="4.8" stroke-linejoin="round" stroke-linecap="round"/>
<rect x="1133.39" y="1047.05" width="21.7" height="21.7" fill="#ff0000"/>
<rect x="1170.18" y="1121.15" width="21.7" height="21.7" fill="#ff0000"/>
<rect x="1225.38" y="1164.05" width="21.7" height="21.7" fill="#ff0000"/>
<line x1="1236.23" y1="1164.45" x2="1236.23" y2="1185.35" stroke="#ff0000" stroke-width="2.4" stroke-linecap="round"/>
<rect x="1294.37" y="1188.75" width="21.7" height="21.7" fill="#ff0000"/>
<line x1="1305.22" y1="1189.15" x2="1305.22" y2="1210.05" stroke="#ff0000" stroke-width="2.4" stroke-linecap="round"/>
<rect x="1501.36" y="1253.25" width="21.7" height="21.7" fill="#ff0000"/>
<line x1="1512.21" y1="1253.65" x2="1512.21" y2="1274.55" stroke="#ff0000" stroke-width="2.4" stroke-linecap="round"/>
<line x1="1157.84" y1="1160.69" x2="1167.43" y2="1168.21" stroke="#8000ff" stroke-width="4.8" stroke-linecap="round"/>
<line x1="1198.09" y1="1181.8" x2="1219.17" y2="1185.4" stroke="#8000ff" stroke-width="4.8" stroke-linecap="round"/>
<line x1="1252.14" y1="1195.08" x2="1289.31" y2="1210.92" stroke="#8000ff" stroke-width="4.8" stroke-linecap="round"/>
<line x1="1321.94" y1="1222.17" x2="1495.5" y2="1268.63" stroke="#8000ff" stroke-width="4.8" stroke-linecap="round"/>
<line x1="1529.14" y1="1276.67" x2="1652.6" y2="1302.73" stroke="#8000ff" stroke-width="4.8" stroke-linecap="round"/>
<rect x="1133.39" y="1139.15" width="21.7" height="21.7" fill="#8000ff"/>
<rect x="1170.18" y="1168.05" width="21.7" height="21.7" fill="#8000ff"/>
<line x1="1181.03" y1="1168.45" x2="1181.03" y2="1189.35" stroke="#8000ff" stroke-width="2.4" stroke-linecap="round"/>
<rect x="1225.38" y="1177.45" width="21.7" height="21.7" fill="#8000ff"/>
<line x1="1236.23" y1="1177.85" x2="1236.23" y2="1198.75" stroke="#8000ff" stroke-width="2.4" stroke-linecap="round"/>
<rect x="1294.37" y="1206.85" width="21.7" height="21.7" fill="#8000ff"/>
<line x1="1305.22" y1="1207.25" x2="1305.22" y2="1228.15" stroke="#8000ff" stroke-width="2.4" stroke-linecap="round"/>
<rect x="1501.36" y="1262.25" width="21.7" height="21.7" fill="#8000ff"/>
<line x1="1512.21" y1="1262.65" x2="1512.21" y2="1283.55" stroke="#8000ff" stroke-width="2.4" stroke-linecap="round"/>
<line x1="1161.1" y1="1204.35" x2="1164.17" y2="1205.05" stroke="#ff8000" stroke-width="4.8" stroke-linecap="round"/>
<line x1="1198.29" y1="1210.09" x2="1218.97" y2="1211.51" stroke="#ff8000" stroke-width="4.8" stroke-linecap="round"/>
<line x1="1252.87" y1="1217.43" x2="1288.58" y2="1227.57" stroke="#ff8000" stroke-width="4.8" stroke-linecap="round"/>
<line x1="1322.07" y1="1236.22" x2="1495.36" y2="1276.58" stroke="#ff8000" stroke-width="4.8" stroke-linecap="round"/>
<line x1="1529.15" y1="1284" x2="1652.6" y2="1309.5" stroke="#ff8000" stroke-width="4.8" stroke-linecap="round"/>
<rect x="1133.39" y="1189.65" width="21.7" height="21.7" fill="#ff8000"/>
<rect x="1170.18" y="1198.05" width="21.7" height="21.7" fill="#ff8000"/>
<line x1="1181.03" y1="1198.45" x2="1181.03" y2="1219.35" stroke="#ff8000" stroke-width="2.4" stroke-linecap="round"/>
<rect x="1225.38" y="1201.85" width="21.7" height="21.7" fill="#ff8000"/>
<line x1="1236.23" y1="1202.25" x2="1236.23" y2="1223.15" stroke="#ff8000" stroke-width="2.4" stroke-linecap="round"/>
<rect x="1294.37" y="1221.45" width="21.7" height="21.7" fill="#ff8000"/>
<line x1="1305.22" y1="1221.85" x2="1305.22" y2="1242.75" stroke="#ff8000" stroke-width="2.4" stroke-linecap="round"/>
<rect x="1501.36" y="1269.65" width="21.7" height="21.7" fill="#ff8000"/>
<line x1="1512.21" y1="1270.05" x2="1512.21" y2="1290.95" stroke="#ff8000" stroke-width="2.4" stroke-linecap="round"/>
<line x1="1196.41" y1="1214.14" x2="1220.86" y2="1226.76" stroke="#0000ff" stroke-width="4.8" stroke-linecap="round"/>
<line x1="1253.08" y1="1238.61" x2="1288.37" y2="1246.79" stroke="#0000ff" stroke-width="4.8" stroke-linecap="round"/>
<line x1="1322.21" y1="1253.99" x2="1495.22" y2="1287.51" stroke="#0000ff" stroke-width="4.8" stroke-linecap="round"/>
<line x1="1529.25" y1="1293.79" x2="1652.6" y2="1315.47" stroke="#0000ff" stroke-width="4.8" stroke-linecap="round"/>
<rect x="1170.18" y="1195.35" width="21.7" height="21.7" fill="#0000ff"/>
<line x1="1181.03" y1="1195.75" x2="1181.03" y2="1216.65" stroke="#0000ff" stroke-width="2.4" stroke-linecap="round"/>
<rect x="1225.38" y="1223.85" width="21.7" height="21.7" fill="#0000ff"/>
<line x1="1236.23" y1="1224.25" x2="1236.23" y2="1245.15" stroke="#0000ff" stroke-width="2.4" stroke-linecap="round"/>
<rect x="1294.37" y="1239.85" width="21.7" height="21.7" fill="#0000ff"/>
<line x1="1305.22" y1="1240.25" x2="1305.22" y2="1261.15" stroke="#0000ff" stroke-width="2.4" stroke-linecap="round"/>
<rect x="1501.36" y="1279.95" width="21.7" height="21.7" fill="#0000ff"/>
<line x1="1512.21" y1="1280.35" x2="1512.21" y2="1301.25" stroke="#0000ff" stroke-width="2.4" stroke-linecap="round"/>
<polyline points="1144.24,1238.6 1181.03,1250.8 1236.23,1254.1 1305.22,1267.1 1512.21,1300.1 1652.6,1322.36" fill="none" stroke="#ff80ff" stroke-width="4.8" stroke-linejoin="round" stroke-linecap="round"/>
<rect x="1133.39" y="1227.75" width="21.7" height="21.7" fill="#ff80ff"/>
<rect x="1170.18" y="1239.95" width="21.7" height="21.7" fill="#ff80ff"/>
<rect x="1225.38" y="1243.25" width="21.7" height="21.7" fill="#ff80ff"/>
<line x1="1236.23" y1="1243.65" x2="1236.23" y2="1264.55" stroke="#ff80ff" stroke-width="2.4" stroke-linecap="round"/>
<rect x="1294.37" y="1256.25" width="21.7" height="21.7" fill="#ff80ff"/>
<line x1="1305.22" y1="1256.65" x2="1305.22" y2="1277.55" stroke="#ff80ff" stroke-width="2.4" stroke-linecap="round"/>
<rect x="1501.36" y="1289.25" width="21.7" height="21.7" fill="#ff80ff"/>
<line x1="1512.21" y1="1289.65" x2="1512.21" y2="1310.55" stroke="#ff80ff" stroke-width="2.4" stroke-linecap="round"/>
<line x1="1144.24" y1="1024.8" x2="1144.24" y2="1096.35" stroke="#00ff00" stroke-width="2.8" stroke-linecap="butt"/>
<line x1="1144.24" y1="1118.05" x2="1144.24" y2="1189.6" stroke="#00ff00" stroke-width="2.8" stroke-linecap="butt"/>
<line x1="1135.69" y1="1024.8" x2="1152.79" y2="1024.8" stroke="#00ff00" stroke-width="2.8" stroke-linecap="round"/>
<line x1="1135.69" y1="1189.6" x2="1152.79" y2="1189.6" stroke="#00ff00" stroke-width="2.8" stroke-linecap="round"/>
<line x1="1181.03" y1="1134.3" x2="1181.03" y2="1136.55" stroke="#00ff00" stroke-width="2.8" stroke-linecap="butt"/>
<line x1="1181.03" y1="1158.25" x2="1181.03" y2="1160.5" stroke="#00ff00" stroke-width="2.8" stroke-linecap="butt"/>
<line x1="1172.48" y1="1134.3" x2="1189.58" y2="1134.3" stroke="#00ff00" stroke-width="2.8" stroke-linecap="round"/>
<line x1="1172.48" y1="1160.5" x2="1189.58" y2="1160.5" stroke="#00ff00" stroke-width="2.8" stroke-linecap="round"/>
<line x1="1228.03" y1="1156.5" x2="1233.53" y2="1156.5" stroke="#00ff00" stroke-width="3" stroke-linecap="round"/>
<line x1="1238.93" y1="1156.5" x2="1244.43" y2="1156.5" stroke="#00ff00" stroke-width="3" stroke-linecap="round"/>
<line x1="1297.02" y1="1186.3" x2="1302.52" y2="1186.3" stroke="#00ff00" stroke-width="3" stroke-linecap="round"/>
<line x1="1307.92" y1="1186.3" x2="1313.42" y2="1186.3" stroke="#00ff00" stroke-width="3" stroke-linecap="round"/>
<line x1="1504.01" y1="1257.9" x2="1509.51" y2="1257.9" stroke="#00ff00" stroke-width="3" stroke-linecap="round"/>
<line x1="1514.91" y1="1257.9" x2="1520.41" y2="1257.9" stroke="#00ff00" stroke-width="3" stroke-linecap="round"/>
<line x1="1144.24" y1="939.9" x2="1144.24" y2="1047.05" stroke="#ff0000" stroke-width="2.8" stroke-linecap="butt"/>
<line x1="1144.24" y1="1068.75" x2="1144.24" y2="1175.9" stroke="#ff0000" stroke-width="2.8" stroke-linecap="butt"/>
<line x1="1135.69" y1="939.9" x2="1152.79" y2="939.9" stroke="#ff0000" stroke-width="2.8" stroke-linecap="round"/>
<line x1="1135.69" y1="1175.9" x2="1152.79" y2="1175.9" stroke="#ff0000" stroke-width="2.8" stroke-linecap="round"/>
<line x1="1181.03" y1="1116.7" x2="1181.03" y2="1121.15" stroke="#ff0000" stroke-width="2.8" stroke-linecap="butt"/>
<line x1="1181.03" y1="1142.85" x2="1181.03" y2="1147.3" stroke="#ff0000" stroke-width="2.8" stroke-linecap="butt"/>
<line x1="1172.48" y1="1116.7" x2="1189.58" y2="1116.7" stroke="#ff0000" stroke-width="2.8" stroke-linecap="round"/>
<line x1="1172.48" y1="1147.3" x2="1189.58" y2="1147.3" stroke="#ff0000" stroke-width="2.8" stroke-linecap="round"/>
<line x1="1228.03" y1="1174.9" x2="1233.53" y2="1174.9" stroke="#ff0000" stroke-width="3" stroke-linecap="round"/>
<line x1="1238.93" y1="1174.9" x2="1244.43" y2="1174.9" stroke="#ff0000" stroke-width="3" stroke-linecap="round"/>
<line x1="1297.02" y1="1199.6" x2="1302.52" y2="1199.6" stroke="#ff0000" stroke-width="3" stroke-linecap="round"/>
<line x1="1307.92" y1="1199.6" x2="1313.42" y2="1199.6" stroke="#ff0000" stroke-width="3" stroke-linecap="round"/>
<line x1="1504.01" y1="1264.1" x2="1509.51" y2="1264.1" stroke="#ff0000" stroke-width="3" stroke-linecap="round"/>
<line x1="1514.91" y1="1264.1" x2="1520.41" y2="1264.1" stroke="#ff0000" stroke-width="3" stroke-linecap="round"/>
<line x1="1144.24" y1="1098.4" x2="1144.24" y2="1139.15" stroke="#8000ff" stroke-width="2.8" stroke-linecap="butt"/>
<line x1="1144.24" y1="1160.85" x2="1144.24" y2="1201.6" stroke="#8000ff" stroke-width="2.8" stroke-linecap="butt"/>
<line x1="1135.69" y1="1098.4" x2="1152.79" y2="1098.4" stroke="#8000ff" stroke-width="2.8" stroke-linecap="round"/>
<line x1="1135.69" y1="1201.6" x2="1152.79" y2="1201.6" stroke="#8000ff" stroke-width="2.8" stroke-linecap="round"/>
<line x1="1172.83" y1="1178.9" x2="1178.33" y2="1178.9" stroke="#8000ff" stroke-width="3" stroke-linecap="round"/>
<line x1="1183.73" y1="1178.9" x2="1189.23" y2="1178.9" stroke="#8000ff" stroke-width="3" stroke-linecap="round"/>
<line x1="1228.03" y1="1188.3" x2="1233.53" y2="1188.3" stroke="#8000ff" stroke-width="3" stroke-linecap="round"/>
<line x1="1238.93" y1="1188.3" x2="1244.43" y2="1188.3" stroke="#8000ff" stroke-width="3" stroke-linecap="round"/>
<line x1="1297.02" y1="1217.7" x2="1302.52" y2="1217.7" stroke="#8000ff" stroke-width="3" stroke-linecap="round"/>
<line x1="1307.92" y1="1217.7" x2="1313.42" y2="1217.7" stroke="#8000ff" stroke-width="3" stroke-linecap="round"/>
<line x1="1504.01" y1="1273.1" x2="1509.51" y2="1273.1" stroke="#8000ff" stroke-width="3" stroke-linecap="round"/>
<line x1="1514.91" y1="1273.1" x2="1520.41" y2="1273.1" stroke="#8000ff" stroke-width="3" stroke-linecap="round"/>
<line x1="1144.24" y1="1145.3" x2="1144.24" y2="1189.65" stroke="#ff8000" stroke-width="2.8" stroke-linecap="butt"/>
<line x1="1144.24" y1="1211.35" x2="1144.24" y2="1255.7" stroke="#ff8000" stroke-width="2.8" stroke-linecap="butt"/>
<line x1="1135.69" y1="1145.3" x2="1152.79" y2="1145.3" stroke="#ff8000" stroke-width="2.8" stroke-linecap="round"/>
<line x1="1135.69" y1="1255.7" x2="1152.79" y2="1255.7" stroke="#ff8000" stroke-width="2.8" stroke-linecap="round"/>
<line x1="1181.03" y1="1198.05" x2="1181.03" y2="1200" stroke="#ff8000" stroke-width="2.8" stroke-linecap="butt"/>
<line x1="1181.03" y1="1217.8" x2="1181.03" y2="1219.75" stroke="#ff8000" stroke-width="2.8" stroke-linecap="butt"/>
<line x1="1172.48" y1="1200" x2="1189.58" y2="1200" stroke="#ff8000" stroke-width="2.8" stroke-linecap="round"/>
<line x1="1172.48" y1="1217.8" x2="1189.58" y2="1217.8" stroke="#ff8000" stroke-width="2.8" stroke-linecap="round"/>
<line x1="1228.03" y1="1212.7" x2="1233.53" y2="1212.7" stroke="#ff8000" stroke-width="3" stroke-linecap="round"/>
<line x1="1238.93" y1="1212.7" x2="1244.43" y2="1212.7" stroke="#ff8000" stroke-width="3" stroke-linecap="round"/>
<line x1="1297.02" y1="1232.3" x2="1302.52" y2="1232.3" stroke="#ff8000" stroke-width="3" stroke-linecap="round"/>
<line x1="1307.92" y1="1232.3" x2="1313.42" y2="1232.3" stroke="#ff8000" stroke-width="3" stroke-linecap="round"/>
<line x1="1504.01" y1="1280.5" x2="1509.51" y2="1280.5" stroke="#ff8000" stroke-width="3" stroke-linecap="round"/>
<line x1="1514.91" y1="1280.5" x2="1520.41" y2="1280.5" stroke="#ff8000" stroke-width="3" stroke-linecap="round"/>
<line x1="1172.83" y1="1206.2" x2="1178.33" y2="1206.2" stroke="#0000ff" stroke-width="3" stroke-linecap="round"/>
<line x1="1183.73" y1="1206.2" x2="1189.23" y2="1206.2" stroke="#0000ff" stroke-width="3" stroke-linecap="round"/>
<line x1="1228.03" y1="1234.7" x2="1233.53" y2="1234.7" stroke="#0000ff" stroke-width="3" stroke-linecap="round"/>
<line x1="1238.93" y1="1234.7" x2="1244.43" y2="1234.7" stroke="#0000ff" stroke-width="3" stroke-linecap="round"/>
<line x1="1297.02" y1="1250.7" x2="1302.52" y2="1250.7" stroke="#0000ff" stroke-width="3" stroke-linecap="round"/>
<line x1="1307.92" y1="1250.7" x2="1313.42" y2="1250.7" stroke="#0000ff" stroke-width="3" stroke-linecap="round"/>
<line x1="1504.01" y1="1290.8" x2="1509.51" y2="1290.8" stroke="#0000ff" stroke-width="3" stroke-linecap="round"/>
<line x1="1514.91" y1="1290.8" x2="1520.41" y2="1290.8" stroke="#0000ff" stroke-width="3" stroke-linecap="round"/>
<line x1="1144.24" y1="1208.7" x2="1144.24" y2="1227.75" stroke="#ff80ff" stroke-width="2.8" stroke-linecap="butt"/>
<line x1="1144.24" y1="1249.45" x2="1144.24" y2="1268.5" stroke="#ff80ff" stroke-width="2.8" stroke-linecap="butt"/>
<line x1="1135.69" y1="1208.7" x2="1152.79" y2="1208.7" stroke="#ff80ff" stroke-width="2.8" stroke-linecap="round"/>
<line x1="1135.69" y1="1268.5" x2="1152.79" y2="1268.5" stroke="#ff80ff" stroke-width="2.8" stroke-linecap="round"/>
<line x1="1181.03" y1="1239.5" x2="1181.03" y2="1239.95" stroke="#ff80ff" stroke-width="2.8" stroke-linecap="butt"/>
<line x1="1181.03" y1="1261.65" x2="1181.03" y2="1262.1" stroke="#ff80ff" stroke-width="2.8" stroke-linecap="butt"/>
<line x1="1172.48" y1="1239.5" x2="1189.58" y2="1239.5" stroke="#ff80ff" stroke-width="2.8" stroke-linecap="round"/>
<line x1="1172.48" y1="1262.1" x2="1189.58" y2="1262.1" stroke="#ff80ff" stroke-width="2.8" stroke-linecap="round"/>
<line x1="1228.03" y1="1254.1" x2="1233.53" y2="1254.1" stroke="#ff80ff" stroke-width="3" stroke-linecap="round"/>
<line x1="1238.93" y1="1254.1" x2="1244.43" y2="1254.1" stroke="#ff80ff" stroke-width="3" stroke-linecap="round"/>
<line x1="1297.02" y1="1267.1" x2="1302.52" y2="1267.1" stroke="#ff80ff" stroke-width="3" stroke-linecap="round"/>
<line x1="1307.92" y1="1267.1" x2="1313.42" y2="1267.1" stroke="#ff80ff" stroke-width="3" stroke-linecap="round"/>
<line x1="1504.01" y1="1300.1" x2="1509.51" y2="1300.1" stroke="#ff80ff" stroke-width="3" stroke-linecap="round"/>
<line x1="1514.91" y1="1300.1" x2="1520.41" y2="1300.1" stroke="#ff80ff" stroke-width="3" stroke-linecap="round"/>
<line x1="1512.21" y1="1261.65" x2="1512.21" y2="1277.6" stroke="#8000ff" stroke-width="2.8" stroke-linecap="butt"/>
<line x1="1512.21" y1="1252.65" x2="1512.21" y2="1268.6" stroke="#ff0000" stroke-width="2.8" stroke-linecap="butt"/>
</g>
</g>
</svg>
</body>
</html>
